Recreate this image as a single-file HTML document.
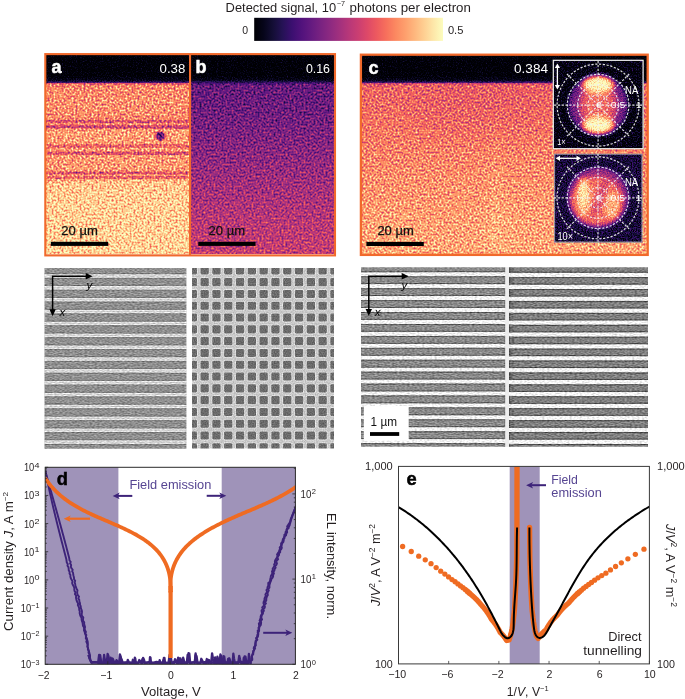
<!DOCTYPE html>
<html><head><meta charset="utf-8"><title>Figure</title>
<style>html,body{margin:0;padding:0;background:#fff;}body{width:685px;height:699px;overflow:hidden;font-family:"Liberation Sans",sans-serif;}svg{display:block;}text{-webkit-font-smoothing:antialiased;}</style>
</head><body>
<svg width="685" height="699" viewBox="0 0 685 699" font-family="Liberation Sans, sans-serif" style="will-change:transform"><defs><linearGradient id="cbar" x1="0" x2="1" y1="0" y2="0"><stop offset="0.00" stop-color="#000004"/><stop offset="0.05" stop-color="#06051a"/><stop offset="0.10" stop-color="#140e36"/><stop offset="0.15" stop-color="#251255"/><stop offset="0.20" stop-color="#3b0f70"/><stop offset="0.25" stop-color="#51127c"/><stop offset="0.30" stop-color="#641a80"/><stop offset="0.35" stop-color="#782281"/><stop offset="0.40" stop-color="#8c2981"/><stop offset="0.45" stop-color="#a1307e"/><stop offset="0.50" stop-color="#b73779"/><stop offset="0.55" stop-color="#ca3e72"/><stop offset="0.60" stop-color="#de4968"/><stop offset="0.65" stop-color="#ed5a5f"/><stop offset="0.70" stop-color="#f7705c"/><stop offset="0.75" stop-color="#fc8961"/><stop offset="0.80" stop-color="#fe9f6d"/><stop offset="0.85" stop-color="#feb77e"/><stop offset="0.90" stop-color="#fecf92"/><stop offset="0.95" stop-color="#fde7a9"/><stop offset="1.00" stop-color="#fcfdbf"/></linearGradient>
<filter id="fk" filterUnits="userSpaceOnUse" x="46" y="55" width="602" height="29" color-interpolation-filters="sRGB">
<feTurbulence type="fractalNoise" baseFrequency="0.8" numOctaves="2" seed="31" result="n0"/><feGaussianBlur in="n0" stdDeviation="0.3" result="n"/>
<feColorMatrix in="n" type="matrix" values="1 0 0 0 0 1 0 0 0 0 1 0 0 0 0 0 0 0 0 1" result="ng"/>
<feComposite in="SourceGraphic" in2="ng" operator="arithmetic" k1="0" k2="1" k3="0.32" k4="-0.16" result="v0"/>
<feComponentTransfer in="v0" result="c"><feFuncR type="table" tableValues="0.001 0.014 0.040 0.074 0.113 0.159 0.212 0.265 0.317 0.366 0.415 0.464 0.513 0.563 0.614 0.665 0.716 0.767 0.817 0.863 0.904 0.937 0.961 0.977 0.987 0.993 0.996 0.997 0.997 0.995 0.992 0.989 0.987"/><feFuncG type="table" tableValues="0.000 0.012 0.031 0.052 0.065 0.068 0.062 0.060 0.072 0.090 0.110 0.130 0.148 0.165 0.182 0.198 0.215 0.234 0.256 0.284 0.320 0.365 0.418 0.476 0.536 0.595 0.654 0.712 0.770 0.827 0.884 0.941 0.991"/><feFuncB type="table" tableValues="0.014 0.069 0.134 0.203 0.277 0.353 0.419 0.462 0.485 0.498 0.505 0.508 0.508 0.505 0.499 0.489 0.475 0.458 0.436 0.412 0.388 0.369 0.360 0.364 0.382 0.410 0.446 0.488 0.535 0.586 0.640 0.698 0.750"/><feFuncA type="identity"/></feComponentTransfer>
<feComposite in="c" in2="SourceAlpha" operator="in"/>
</filter>
<linearGradient id="gk" x1="0" x2="0" y1="55" y2="84" gradientUnits="userSpaceOnUse"><stop offset="0" stop-color="#000000"/><stop offset="0.72" stop-color="#000000"/><stop offset="0.86" stop-color="#0a0a0a"/><stop offset="0.92" stop-color="#1f1f1f"/><stop offset="0.97" stop-color="#404040"/><stop offset="1" stop-color="#4c4c4c"/></linearGradient>
<filter id="fa" filterUnits="userSpaceOnUse" x="46" y="82.6" width="143.5" height="171.5" color-interpolation-filters="sRGB">
<feTurbulence type="fractalNoise" baseFrequency="0.5" numOctaves="2" seed="3" result="n0"/><feGaussianBlur in="n0" stdDeviation="0.4" result="n"/>
<feColorMatrix in="n" type="matrix" values="1 0 0 0 0 1 0 0 0 0 1 0 0 0 0 0 0 0 0 1" result="ng"/>
<feComposite in="SourceGraphic" in2="ng" operator="arithmetic" k1="0" k2="1" k3="0.9" k4="-0.45" result="v0"/>
<feComponentTransfer in="v0" result="c"><feFuncR type="table" tableValues="0.001 0.014 0.040 0.074 0.113 0.159 0.212 0.265 0.317 0.366 0.415 0.464 0.513 0.563 0.614 0.665 0.716 0.767 0.817 0.863 0.904 0.937 0.961 0.977 0.987 0.993 0.996 0.997 0.997 0.995 0.992 0.989 0.987"/><feFuncG type="table" tableValues="0.000 0.012 0.031 0.052 0.065 0.068 0.062 0.060 0.072 0.090 0.110 0.130 0.148 0.165 0.182 0.198 0.215 0.234 0.256 0.284 0.320 0.365 0.418 0.476 0.536 0.595 0.654 0.712 0.770 0.827 0.884 0.941 0.991"/><feFuncB type="table" tableValues="0.014 0.069 0.134 0.203 0.277 0.353 0.419 0.462 0.485 0.498 0.505 0.508 0.508 0.505 0.499 0.489 0.475 0.458 0.436 0.412 0.388 0.369 0.360 0.364 0.382 0.410 0.446 0.488 0.535 0.586 0.640 0.698 0.750"/><feFuncA type="identity"/></feComponentTransfer>
<feComposite in="c" in2="SourceAlpha" operator="in"/>
</filter>
<linearGradient id="ga" x1="0" x2="0" y1="55" y2="254" gradientUnits="userSpaceOnUse"><stop offset="0.14" stop-color="#8c8c8c"/><stop offset="0.15" stop-color="#bdbdbd"/><stop offset="0.23" stop-color="#c4c4c4"/><stop offset="0.3" stop-color="#c2c2c2"/><stop offset="0.32" stop-color="#bdbdbd"/><stop offset="0.38" stop-color="#cccccc"/><stop offset="0.44" stop-color="#cccccc"/><stop offset="0.51" stop-color="#c9c9c9"/><stop offset="0.57" stop-color="#c9c9c9"/><stop offset="0.62" stop-color="#cccccc"/><stop offset="0.64" stop-color="#e0e0e0"/><stop offset="0.73" stop-color="#e6e6e6"/><stop offset="1" stop-color="#e8e8e8"/></linearGradient>
<filter id="sb" x="-10%" y="-100%" width="120%" height="300%"><feGaussianBlur stdDeviation="0.3 0.7"/></filter>
<filter id="fb" filterUnits="userSpaceOnUse" x="190" y="82.6" width="144.5" height="171.5" color-interpolation-filters="sRGB">
<feTurbulence type="fractalNoise" baseFrequency="0.5" numOctaves="2" seed="5" result="n0"/><feGaussianBlur in="n0" stdDeviation="0.4" result="n"/>
<feColorMatrix in="n" type="matrix" values="1 0 0 0 0 1 0 0 0 0 1 0 0 0 0 0 0 0 0 1" result="ng"/>
<feComposite in="SourceGraphic" in2="ng" operator="arithmetic" k1="0" k2="1" k3="0.75" k4="-0.375" result="v0"/>
<feComponentTransfer in="v0" result="c"><feFuncR type="table" tableValues="0.001 0.014 0.040 0.074 0.113 0.159 0.212 0.265 0.317 0.366 0.415 0.464 0.513 0.563 0.614 0.665 0.716 0.767 0.817 0.863 0.904 0.937 0.961 0.977 0.987 0.993 0.996 0.997 0.997 0.995 0.992 0.989 0.987"/><feFuncG type="table" tableValues="0.000 0.012 0.031 0.052 0.065 0.068 0.062 0.060 0.072 0.090 0.110 0.130 0.148 0.165 0.182 0.198 0.215 0.234 0.256 0.284 0.320 0.365 0.418 0.476 0.536 0.595 0.654 0.712 0.770 0.827 0.884 0.941 0.991"/><feFuncB type="table" tableValues="0.014 0.069 0.134 0.203 0.277 0.353 0.419 0.462 0.485 0.498 0.505 0.508 0.508 0.505 0.499 0.489 0.475 0.458 0.436 0.412 0.388 0.369 0.360 0.364 0.382 0.410 0.446 0.488 0.535 0.586 0.640 0.698 0.750"/><feFuncA type="identity"/></feComponentTransfer>
<feComposite in="c" in2="SourceAlpha" operator="in"/>
</filter>
<linearGradient id="gb" x1="0" x2="0" y1="55" y2="254" gradientUnits="userSpaceOnUse"><stop offset="0.14" stop-color="#333333"/><stop offset="0.15" stop-color="#4c4c4c"/><stop offset="0.28" stop-color="#525252"/><stop offset="0.43" stop-color="#5e5e5e"/><stop offset="0.63" stop-color="#707070"/><stop offset="0.83" stop-color="#808080"/><stop offset="1" stop-color="#8a8a8a"/></linearGradient>
<filter id="fc" filterUnits="userSpaceOnUse" x="361.5" y="82.6" width="285.5" height="171.5" color-interpolation-filters="sRGB">
<feTurbulence type="fractalNoise" baseFrequency="0.5" numOctaves="2" seed="7" result="n0"/><feGaussianBlur in="n0" stdDeviation="0.4" result="n"/>
<feColorMatrix in="n" type="matrix" values="1 0 0 0 0 1 0 0 0 0 1 0 0 0 0 0 0 0 0 1" result="ng"/>
<feComposite in="SourceGraphic" in2="ng" operator="arithmetic" k1="0" k2="1" k3="0.85" k4="-0.425" result="v0"/>
<feComponentTransfer in="v0" result="c"><feFuncR type="table" tableValues="0.001 0.014 0.040 0.074 0.113 0.159 0.212 0.265 0.317 0.366 0.415 0.464 0.513 0.563 0.614 0.665 0.716 0.767 0.817 0.863 0.904 0.937 0.961 0.977 0.987 0.993 0.996 0.997 0.997 0.995 0.992 0.989 0.987"/><feFuncG type="table" tableValues="0.000 0.012 0.031 0.052 0.065 0.068 0.062 0.060 0.072 0.090 0.110 0.130 0.148 0.165 0.182 0.198 0.215 0.234 0.256 0.284 0.320 0.365 0.418 0.476 0.536 0.595 0.654 0.712 0.770 0.827 0.884 0.941 0.991"/><feFuncB type="table" tableValues="0.014 0.069 0.134 0.203 0.277 0.353 0.419 0.462 0.485 0.498 0.505 0.508 0.508 0.505 0.499 0.489 0.475 0.458 0.436 0.412 0.388 0.369 0.360 0.364 0.382 0.410 0.446 0.488 0.535 0.586 0.640 0.698 0.750"/><feFuncA type="identity"/></feComponentTransfer>
<feComposite in="c" in2="SourceAlpha" operator="in"/>
</filter>
<linearGradient id="gc" x1="0" x2="0" y1="55" y2="254" gradientUnits="userSpaceOnUse"><stop offset="0.14" stop-color="#808080"/><stop offset="0.15" stop-color="#a8a8a8"/><stop offset="0.28" stop-color="#b0b0b0"/><stop offset="0.43" stop-color="#b8b8b8"/><stop offset="0.63" stop-color="#c4c4c4"/><stop offset="0.83" stop-color="#cccccc"/><stop offset="1" stop-color="#d1d1d1"/></linearGradient>
<linearGradient id="gc2" x1="0" x2="1" y1="0" y2="0"><stop offset="0" stop-color="#fff" stop-opacity="0"/><stop offset="0.5" stop-color="#fff" stop-opacity="0.06"/><stop offset="1" stop-color="#fff" stop-opacity="0"/></linearGradient>
<linearGradient id="gc3" x1="0" x2="0" y1="0" y2="1"><stop offset="0" stop-color="#fff" stop-opacity="0"/><stop offset="1" stop-color="#fff" stop-opacity="1"/></linearGradient>
<filter id="soft" x="-50%" y="-50%" width="200%" height="200%"><feGaussianBlur stdDeviation="12"/></filter>
<filter id="fi1" filterUnits="userSpaceOnUse" x="552.8" y="59.8" width="90.8" height="89.4" color-interpolation-filters="sRGB">
<feTurbulence type="fractalNoise" baseFrequency="0.8" numOctaves="2" seed="11" result="n0"/><feGaussianBlur in="n0" stdDeviation="0.3" result="n"/>
<feColorMatrix in="n" type="matrix" values="1 0 0 0 0 1 0 0 0 0 1 0 0 0 0 0 0 0 0 1" result="ng"/>
<feComposite in="SourceGraphic" in2="ng" operator="arithmetic" k1="0" k2="1" k3="0.55" k4="-0.275" result="v0"/>
<feComponentTransfer in="v0" result="c"><feFuncR type="table" tableValues="0.001 0.014 0.040 0.074 0.113 0.159 0.212 0.265 0.317 0.366 0.415 0.464 0.513 0.563 0.614 0.665 0.716 0.767 0.817 0.863 0.904 0.937 0.961 0.977 0.987 0.993 0.996 0.997 0.997 0.995 0.992 0.989 0.987"/><feFuncG type="table" tableValues="0.000 0.012 0.031 0.052 0.065 0.068 0.062 0.060 0.072 0.090 0.110 0.130 0.148 0.165 0.182 0.198 0.215 0.234 0.256 0.284 0.320 0.365 0.418 0.476 0.536 0.595 0.654 0.712 0.770 0.827 0.884 0.941 0.991"/><feFuncB type="table" tableValues="0.014 0.069 0.134 0.203 0.277 0.353 0.419 0.462 0.485 0.498 0.505 0.508 0.508 0.505 0.499 0.489 0.475 0.458 0.436 0.412 0.388 0.369 0.360 0.364 0.382 0.410 0.446 0.488 0.535 0.586 0.640 0.698 0.750"/><feFuncA type="identity"/></feComponentTransfer>
<feComposite in="c" in2="SourceAlpha" operator="in"/>
</filter>
<filter id="fi1b" x="-50%" y="-50%" width="200%" height="200%"><feGaussianBlur stdDeviation="2.2"/></filter>
<filter id="fi2" filterUnits="userSpaceOnUse" x="554" y="153.7" width="88.5" height="88.9" color-interpolation-filters="sRGB">
<feTurbulence type="fractalNoise" baseFrequency="0.8" numOctaves="2" seed="13" result="n0"/><feGaussianBlur in="n0" stdDeviation="0.3" result="n"/>
<feColorMatrix in="n" type="matrix" values="1 0 0 0 0 1 0 0 0 0 1 0 0 0 0 0 0 0 0 1" result="ng"/>
<feComposite in="SourceGraphic" in2="ng" operator="arithmetic" k1="0" k2="1" k3="0.55" k4="-0.275" result="v0"/>
<feComponentTransfer in="v0" result="c"><feFuncR type="table" tableValues="0.001 0.014 0.040 0.074 0.113 0.159 0.212 0.265 0.317 0.366 0.415 0.464 0.513 0.563 0.614 0.665 0.716 0.767 0.817 0.863 0.904 0.937 0.961 0.977 0.987 0.993 0.996 0.997 0.997 0.995 0.992 0.989 0.987"/><feFuncG type="table" tableValues="0.000 0.012 0.031 0.052 0.065 0.068 0.062 0.060 0.072 0.090 0.110 0.130 0.148 0.165 0.182 0.198 0.215 0.234 0.256 0.284 0.320 0.365 0.418 0.476 0.536 0.595 0.654 0.712 0.770 0.827 0.884 0.941 0.991"/><feFuncB type="table" tableValues="0.014 0.069 0.134 0.203 0.277 0.353 0.419 0.462 0.485 0.498 0.505 0.508 0.508 0.505 0.499 0.489 0.475 0.458 0.436 0.412 0.388 0.369 0.360 0.364 0.382 0.410 0.446 0.488 0.535 0.586 0.640 0.698 0.750"/><feFuncA type="identity"/></feComponentTransfer>
<feComposite in="c" in2="SourceAlpha" operator="in"/>
</filter>
<filter id="fi2b" x="-50%" y="-50%" width="200%" height="200%"><feGaussianBlur stdDeviation="2.2"/></filter>
<filter id="fsa" filterUnits="userSpaceOnUse" x="44.4" y="267.9" width="142.1" height="180.9" color-interpolation-filters="sRGB">
<feTurbulence type="fractalNoise" baseFrequency="0.4 0.9" numOctaves="1" seed="21" result="n"/>
<feColorMatrix in="n" type="matrix" values="1 0 0 0 0 1 0 0 0 0 1 0 0 0 0 0 0 0 0 1" result="ng"/>
<feComposite in="SourceGraphic" in2="ng" operator="arithmetic" k1="0" k2="1" k3="0.5" k4="-0.25" result="c"/>
<feComposite in="c" in2="SourceAlpha" operator="in"/>
</filter>
<filter id="fsb" filterUnits="userSpaceOnUse" x="192" y="268" width="142" height="180.5" color-interpolation-filters="sRGB">
<feTurbulence type="fractalNoise" baseFrequency="0.9" numOctaves="1" seed="22" result="n"/>
<feColorMatrix in="n" type="matrix" values="1 0 0 0 0 1 0 0 0 0 1 0 0 0 0 0 0 0 0 1" result="ng"/>
<feComposite in="SourceGraphic" in2="ng" operator="arithmetic" k1="0" k2="1" k3="0.3" k4="-0.15" result="c"/>
<feComposite in="c" in2="SourceAlpha" operator="in"/>
</filter>
<filter id="fsc1" filterUnits="userSpaceOnUse" x="361" y="267.2" width="144.5" height="179.6" color-interpolation-filters="sRGB">
<feTurbulence type="fractalNoise" baseFrequency="0.4 0.9" numOctaves="1" seed="23" result="n"/>
<feColorMatrix in="n" type="matrix" values="1 0 0 0 0 1 0 0 0 0 1 0 0 0 0 0 0 0 0 1" result="ng"/>
<feComposite in="SourceGraphic" in2="ng" operator="arithmetic" k1="0" k2="1" k3="0.5" k4="-0.25" result="c"/>
<feComposite in="c" in2="SourceAlpha" operator="in"/>
</filter>
<filter id="fsc2" filterUnits="userSpaceOnUse" x="509" y="267.2" width="139" height="179.6" color-interpolation-filters="sRGB">
<feTurbulence type="fractalNoise" baseFrequency="0.4 0.9" numOctaves="1" seed="24" result="n"/>
<feColorMatrix in="n" type="matrix" values="1 0 0 0 0 1 0 0 0 0 1 0 0 0 0 0 0 0 0 1" result="ng"/>
<feComposite in="SourceGraphic" in2="ng" operator="arithmetic" k1="0" k2="1" k3="0.5" k4="-0.25" result="c"/>
<feComposite in="c" in2="SourceAlpha" operator="in"/>
</filter></defs>
<text x="225.6" y="11.8" font-size="12" fill="#231f20" textLength="110.5" lengthAdjust="spacingAndGlyphs">Detected signal, 10</text>
<text x="336.7" y="5.6" font-size="7" fill="#231f20" textLength="8.2" lengthAdjust="spacingAndGlyphs">&#8722;7</text>
<text x="349.6" y="11.8" font-size="12" fill="#231f20" textLength="121.3" lengthAdjust="spacingAndGlyphs">photons per electron</text>
<rect x="254.2" y="17.8" width="188.8" height="23.1" fill="url(#cbar)"/>
<text x="242.2" y="34" font-size="10.5" fill="#231f20">0</text>
<text x="447.9" y="34.2" font-size="10.5" fill="#231f20" textLength="15.5" lengthAdjust="spacingAndGlyphs">0.5</text>
<g filter="url(#fk)">
<rect x="46" y="55" width="288.5" height="28.7" fill="url(#gk)"/>
<rect x="361.5" y="55" width="285.5" height="28.7" fill="url(#gk)"/>
</g>
<g filter="url(#fa)">
<rect x="46" y="82.6" width="143.5" height="171.5" fill="url(#ga)"/>
<g filter="url(#sb)">
<rect x="46" y="120.0" width="143.5" height="2.8" fill="#999999"/>
<rect x="46" y="125.3" width="143.5" height="3.2" fill="#8c8c8c"/>
<rect x="46" y="144.2" width="143.5" height="3.6" fill="#a8a8a8"/>
<rect x="46" y="151.6" width="143.5" height="3.3" fill="#999999"/>
<rect x="46" y="171.6" width="143.5" height="2.8" fill="#999999"/>
<rect x="46" y="176.2" width="143.5" height="2.8" fill="#a8a8a8"/>
</g>
<circle cx="160.3" cy="135.9" r="5.5" fill="#808080" opacity="0.6"/>
<circle cx="160.3" cy="135.9" r="3.9" fill="#454545"/>
</g>
<rect x="190" y="82.6" width="144.5" height="171.5" fill="url(#gb)" filter="url(#fb)"/>
<rect x="45.3" y="54.1" width="289.7" height="201.3" fill="none" stroke="#f1692b" stroke-width="2.1"/>
<rect x="189" y="54" width="2.1" height="201.5" fill="#f1692b"/>
<text x="51.6" y="73" font-size="18" fill="#fff" font-weight="bold" stroke="#fff" stroke-width="0.5">a</text>
<text x="195.6" y="73" font-size="18" fill="#fff" font-weight="bold" stroke="#fff" stroke-width="0.5">b</text>
<text x="159.6" y="73" font-size="12.3" fill="#fff" textLength="25.7" lengthAdjust="spacingAndGlyphs">0.38</text>
<text x="305.9" y="72.6" font-size="12.3" fill="#fff" textLength="24.1" lengthAdjust="spacingAndGlyphs">0.16</text>
<rect x="50.8" y="241.8" width="57.4" height="4.1" fill="#000"/>
<text x="61.3" y="235.2" font-size="12.3" fill="#111" textLength="36.6" lengthAdjust="spacingAndGlyphs" stroke="#111" stroke-width="0.25">20 µm</text>
<rect x="198.3" y="241.8" width="57.2" height="4.1" fill="#000"/>
<text x="208.5" y="235.2" font-size="12.3" fill="#111" textLength="36.6" lengthAdjust="spacingAndGlyphs" stroke="#111" stroke-width="0.25">20 µm</text>
<g filter="url(#fc)">
<rect x="361.5" y="82.6" width="285.5" height="171.5" fill="url(#gc)"/>
<rect x="484" y="120" width="24" height="134" fill="url(#gc2)"/>
<rect x="484" y="170" width="24" height="84" fill="url(#gc2)"/>
<g filter="url(#soft)">
<ellipse cx="480" cy="112" rx="70" ry="22" fill="#000" opacity="0.045"/>
<ellipse cx="500" cy="228" rx="16" ry="30" fill="#fff" opacity="0.12"/>
<ellipse cx="392" cy="232" rx="30" ry="20" fill="#fff" opacity="0.08"/>
</g>
</g>
<rect x="360.9" y="54.7" width="286.8" height="200.2" fill="none" stroke="#f1692b" stroke-width="2.3"/>
<text x="368.4" y="73.6" font-size="18" fill="#fff" font-weight="bold" stroke="#fff" stroke-width="0.5">c</text>
<text x="514" y="73" font-size="12.3" fill="#fff" textLength="34" lengthAdjust="spacingAndGlyphs">0.384</text>
<rect x="366.4" y="241.9" width="57.4" height="4.1" fill="#000"/>
<text x="377.4" y="235.2" font-size="12.3" fill="#111" textLength="36.3" lengthAdjust="spacingAndGlyphs" stroke="#111" stroke-width="0.25">20 µm</text>
<g filter="url(#fi1)">
<rect x="552.8" y="59.8" width="90.8" height="89.4" fill="#050505"/>
<g filter="url(#fi1b)">
<circle cx="598.1" cy="105.1" r="29.5" fill="#575757"/>
<ellipse cx="598.1" cy="105.1" rx="19" ry="24" fill="#999999"/>
<ellipse cx="598.1" cy="105.1" rx="12" ry="20" fill="#adadad"/>
<ellipse cx="598.1" cy="84.6" rx="15.5" ry="9" fill="#e6e6e6"/>
<ellipse cx="598.1" cy="125.1" rx="15.5" ry="9" fill="#e6e6e6"/>
<ellipse cx="598.1" cy="84.1" rx="12" ry="6.5" fill="#ffffff"/>
<ellipse cx="598.1" cy="125.6" rx="12" ry="6.5" fill="#ffffff"/>
</g>
</g>
<rect x="553.3" y="60.3" width="89.8" height="88.4" fill="none" stroke="#f4f4f4" stroke-width="1.2" opacity="1"/>
<g fill="none" stroke="#f2f2f2" stroke-width="1.15" stroke-dasharray="2.2 1.6" opacity="0.92">
<circle cx="598.1" cy="105.1" r="10.25"/>
<circle cx="598.1" cy="105.1" r="20.5"/>
<circle cx="598.1" cy="105.1" r="30.75"/>
<circle cx="598.1" cy="105.1" r="41"/>
<line x1="598.1" y1="105.1" x2="642.1" y2="105.1"/>
<line x1="598.1" y1="105.1" x2="629.21" y2="136.21"/>
<line x1="598.1" y1="105.1" x2="598.1" y2="149.1"/>
<line x1="598.1" y1="105.1" x2="566.99" y2="136.21"/>
<line x1="598.1" y1="105.1" x2="554.1" y2="105.1"/>
<line x1="598.1" y1="105.1" x2="566.99" y2="73.99"/>
<line x1="598.1" y1="105.1" x2="598.1" y2="61.1"/>
<line x1="598.1" y1="105.1" x2="629.21" y2="73.99"/>
</g>
<text x="625.1" y="93.5" font-size="10.2" fill="#fff" textLength="13.2" lengthAdjust="spacingAndGlyphs">NA</text>
<text x="596.6" y="108.1" font-size="9.6" fill="#fff">0</text>
<text x="610.7" y="108.1" font-size="9.6" fill="#fff" textLength="14.6" lengthAdjust="spacingAndGlyphs">0.5</text>
<text x="635.9" y="108.1" font-size="9.6" fill="#fff">1</text>
<g filter="url(#fi2)">
<rect x="554" y="153.7" width="88.5" height="88.9" fill="#1a1a1a"/>
<g filter="url(#fi2b)">
<circle cx="598.0" cy="197.8" r="30" fill="#707070"/>
<ellipse cx="597.0" cy="200.8" rx="26" ry="24" fill="#adadad"/>
<ellipse cx="600.0" cy="195.8" rx="4.5" ry="21" fill="#949494" transform="rotate(20 598.0 197.8)"/>
<ellipse cx="584.0" cy="196.8" rx="7" ry="19" fill="#d6d6d6"/>
<ellipse cx="583.0" cy="194.8" rx="3.5" ry="13" fill="#f7f7f7"/>
<ellipse cx="612.0" cy="205.8" rx="7.5" ry="14" fill="#d1d1d1"/>
</g>
</g>
<rect x="554.5" y="154.2" width="87.5" height="87.9" fill="none" stroke="#f4f4f4" stroke-width="1.2" opacity="0.55"/>
<g fill="none" stroke="#f2f2f2" stroke-width="1.15" stroke-dasharray="2.2 1.6" opacity="0.92">
<circle cx="598.0" cy="197.8" r="10.25"/>
<circle cx="598.0" cy="197.8" r="20.5"/>
<circle cx="598.0" cy="197.8" r="30.75"/>
<circle cx="598.0" cy="197.8" r="41"/>
<line x1="598.0" y1="197.8" x2="642" y2="197.8"/>
<line x1="598.0" y1="197.8" x2="629.11" y2="228.91"/>
<line x1="598.0" y1="197.8" x2="598" y2="241.8"/>
<line x1="598.0" y1="197.8" x2="566.89" y2="228.91"/>
<line x1="598.0" y1="197.8" x2="554" y2="197.8"/>
<line x1="598.0" y1="197.8" x2="566.89" y2="166.69"/>
<line x1="598.0" y1="197.8" x2="598" y2="153.8"/>
<line x1="598.0" y1="197.8" x2="629.11" y2="166.69"/>
</g>
<text x="625" y="186.2" font-size="10.2" fill="#fff" textLength="13.2" lengthAdjust="spacingAndGlyphs">NA</text>
<text x="596.5" y="200.8" font-size="9.6" fill="#fff">0</text>
<text x="610.6" y="200.8" font-size="9.6" fill="#fff" textLength="14.6" lengthAdjust="spacingAndGlyphs">0.5</text>
<text x="635.8" y="200.8" font-size="9.6" fill="#fff">1</text>
<text x="557.2" y="145.2" font-size="9.6" fill="#fff" textLength="8.5" lengthAdjust="spacingAndGlyphs">1×</text>
<text x="557.5" y="239.6" font-size="10" fill="#fff" textLength="15.6" lengthAdjust="spacingAndGlyphs">10×</text>
<line x1="557.4" y1="67.1" x2="557.4" y2="85.9" stroke="#fff" stroke-width="1.3"/>
<path d="M557.4,63.5 L554.8,68 L560,68 Z" fill="#fff"/>
<path d="M557.4,89.5 L554.8,85 L560,85 Z" fill="#fff"/>
<line x1="559.1" y1="158.3" x2="577.4" y2="158.3" stroke="#fff" stroke-width="1.3"/>
<path d="M555.5,158.3 L560,160.9 L560,155.7 Z" fill="#fff"/>
<path d="M581,158.3 L576.5,160.9 L576.5,155.7 Z" fill="#fff"/>
<clipPath id="fsac"><rect x="44.4" y="267.9" width="142.1" height="180.9"/></clipPath>
<g clip-path="url(#fsac)"><g filter="url(#fsa)">
<rect x="44.4" y="267.9" width="142.1" height="180.9" fill="#e6e6e6"/>
<rect x="44.4" y="254.18" width="142.1" height="8.1" fill="#8f8f8f"/>
<rect x="44.4" y="254.18" width="142.1" height="1" fill="#787878"/>
<rect x="44.4" y="261.28" width="142.1" height="1" fill="#787878"/>
<rect x="44.4" y="263.66" width="142.1" height="1.0" fill="#c7c7c7"/>
<rect x="44.4" y="266.04" width="142.1" height="8.1" fill="#8f8f8f"/>
<rect x="44.4" y="266.04" width="142.1" height="1" fill="#787878"/>
<rect x="44.4" y="273.14" width="142.1" height="1" fill="#787878"/>
<rect x="44.4" y="275.52" width="142.1" height="1.0" fill="#c7c7c7"/>
<rect x="44.4" y="277.9" width="142.1" height="8.1" fill="#8f8f8f"/>
<rect x="44.4" y="277.9" width="142.1" height="1" fill="#787878"/>
<rect x="44.4" y="285" width="142.1" height="1" fill="#787878"/>
<rect x="44.4" y="287.38" width="142.1" height="1.0" fill="#c7c7c7"/>
<rect x="44.4" y="289.76" width="142.1" height="8.1" fill="#8f8f8f"/>
<rect x="44.4" y="289.76" width="142.1" height="1" fill="#787878"/>
<rect x="44.4" y="296.86" width="142.1" height="1" fill="#787878"/>
<rect x="44.4" y="299.24" width="142.1" height="1.0" fill="#c7c7c7"/>
<rect x="44.4" y="301.62" width="142.1" height="8.1" fill="#8f8f8f"/>
<rect x="44.4" y="301.62" width="142.1" height="1" fill="#787878"/>
<rect x="44.4" y="308.72" width="142.1" height="1" fill="#787878"/>
<rect x="44.4" y="311.1" width="142.1" height="1.0" fill="#c7c7c7"/>
<rect x="44.4" y="313.48" width="142.1" height="8.1" fill="#8f8f8f"/>
<rect x="44.4" y="313.48" width="142.1" height="1" fill="#787878"/>
<rect x="44.4" y="320.58" width="142.1" height="1" fill="#787878"/>
<rect x="44.4" y="322.96" width="142.1" height="1.0" fill="#c7c7c7"/>
<rect x="44.4" y="325.34" width="142.1" height="8.1" fill="#8f8f8f"/>
<rect x="44.4" y="325.34" width="142.1" height="1" fill="#787878"/>
<rect x="44.4" y="332.44" width="142.1" height="1" fill="#787878"/>
<rect x="44.4" y="334.82" width="142.1" height="1.0" fill="#c7c7c7"/>
<rect x="44.4" y="337.2" width="142.1" height="8.1" fill="#8f8f8f"/>
<rect x="44.4" y="337.2" width="142.1" height="1" fill="#787878"/>
<rect x="44.4" y="344.3" width="142.1" height="1" fill="#787878"/>
<rect x="44.4" y="346.68" width="142.1" height="1.0" fill="#c7c7c7"/>
<rect x="44.4" y="349.06" width="142.1" height="8.1" fill="#8f8f8f"/>
<rect x="44.4" y="349.06" width="142.1" height="1" fill="#787878"/>
<rect x="44.4" y="356.16" width="142.1" height="1" fill="#787878"/>
<rect x="44.4" y="358.54" width="142.1" height="1.0" fill="#c7c7c7"/>
<rect x="44.4" y="360.92" width="142.1" height="8.1" fill="#8f8f8f"/>
<rect x="44.4" y="360.92" width="142.1" height="1" fill="#787878"/>
<rect x="44.4" y="368.02" width="142.1" height="1" fill="#787878"/>
<rect x="44.4" y="370.4" width="142.1" height="1.0" fill="#c7c7c7"/>
<rect x="44.4" y="372.78" width="142.1" height="8.1" fill="#8f8f8f"/>
<rect x="44.4" y="372.78" width="142.1" height="1" fill="#787878"/>
<rect x="44.4" y="379.88" width="142.1" height="1" fill="#787878"/>
<rect x="44.4" y="382.26" width="142.1" height="1.0" fill="#c7c7c7"/>
<rect x="44.4" y="384.64" width="142.1" height="8.1" fill="#8f8f8f"/>
<rect x="44.4" y="384.64" width="142.1" height="1" fill="#787878"/>
<rect x="44.4" y="391.74" width="142.1" height="1" fill="#787878"/>
<rect x="44.4" y="394.12" width="142.1" height="1.0" fill="#c7c7c7"/>
<rect x="44.4" y="396.5" width="142.1" height="8.1" fill="#8f8f8f"/>
<rect x="44.4" y="396.5" width="142.1" height="1" fill="#787878"/>
<rect x="44.4" y="403.6" width="142.1" height="1" fill="#787878"/>
<rect x="44.4" y="405.98" width="142.1" height="1.0" fill="#c7c7c7"/>
<rect x="44.4" y="408.36" width="142.1" height="8.1" fill="#8f8f8f"/>
<rect x="44.4" y="408.36" width="142.1" height="1" fill="#787878"/>
<rect x="44.4" y="415.46" width="142.1" height="1" fill="#787878"/>
<rect x="44.4" y="417.84" width="142.1" height="1.0" fill="#c7c7c7"/>
<rect x="44.4" y="420.22" width="142.1" height="8.1" fill="#8f8f8f"/>
<rect x="44.4" y="420.22" width="142.1" height="1" fill="#787878"/>
<rect x="44.4" y="427.32" width="142.1" height="1" fill="#787878"/>
<rect x="44.4" y="429.7" width="142.1" height="1.0" fill="#c7c7c7"/>
<rect x="44.4" y="432.08" width="142.1" height="8.1" fill="#8f8f8f"/>
<rect x="44.4" y="432.08" width="142.1" height="1" fill="#787878"/>
<rect x="44.4" y="439.18" width="142.1" height="1" fill="#787878"/>
<rect x="44.4" y="441.56" width="142.1" height="1.0" fill="#c7c7c7"/>
<rect x="44.4" y="443.94" width="142.1" height="8.1" fill="#8f8f8f"/>
<rect x="44.4" y="443.94" width="142.1" height="1" fill="#787878"/>
<rect x="44.4" y="451.04" width="142.1" height="1" fill="#787878"/>
<rect x="44.4" y="453.42" width="142.1" height="1.0" fill="#c7c7c7"/>
</g></g>
<clipPath id="csb"><rect x="192" y="268" width="142" height="180.5"/></clipPath>
<g clip-path="url(#csb)"><g filter="url(#fsb)">
<rect x="192" y="268" width="142" height="180.5" fill="#c7c7c7"/>
<rect x="187.9" y="265.5" width="9.9" height="9.7" rx="2" fill="#e6e6e6"/>
<rect x="188.7" y="266.3" width="8.3" height="8.1" rx="1.3" fill="#6b6b6b"/>
<rect x="187.9" y="277.3" width="9.9" height="9.7" rx="2" fill="#e6e6e6"/>
<rect x="188.7" y="278.1" width="8.3" height="8.1" rx="1.3" fill="#6b6b6b"/>
<rect x="187.9" y="289.1" width="9.9" height="9.7" rx="2" fill="#e6e6e6"/>
<rect x="188.7" y="289.9" width="8.3" height="8.1" rx="1.3" fill="#6b6b6b"/>
<rect x="187.9" y="300.9" width="9.9" height="9.7" rx="2" fill="#e6e6e6"/>
<rect x="188.7" y="301.7" width="8.3" height="8.1" rx="1.3" fill="#6b6b6b"/>
<rect x="187.9" y="312.7" width="9.9" height="9.7" rx="2" fill="#e6e6e6"/>
<rect x="188.7" y="313.5" width="8.3" height="8.1" rx="1.3" fill="#6b6b6b"/>
<rect x="187.9" y="324.5" width="9.9" height="9.7" rx="2" fill="#e6e6e6"/>
<rect x="188.7" y="325.3" width="8.3" height="8.1" rx="1.3" fill="#6b6b6b"/>
<rect x="187.9" y="336.3" width="9.9" height="9.7" rx="2" fill="#e6e6e6"/>
<rect x="188.7" y="337.1" width="8.3" height="8.1" rx="1.3" fill="#6b6b6b"/>
<rect x="187.9" y="348.1" width="9.9" height="9.7" rx="2" fill="#e6e6e6"/>
<rect x="188.7" y="348.9" width="8.3" height="8.1" rx="1.3" fill="#6b6b6b"/>
<rect x="187.9" y="359.9" width="9.9" height="9.7" rx="2" fill="#e6e6e6"/>
<rect x="188.7" y="360.7" width="8.3" height="8.1" rx="1.3" fill="#6b6b6b"/>
<rect x="187.9" y="371.7" width="9.9" height="9.7" rx="2" fill="#e6e6e6"/>
<rect x="188.7" y="372.5" width="8.3" height="8.1" rx="1.3" fill="#6b6b6b"/>
<rect x="187.9" y="383.5" width="9.9" height="9.7" rx="2" fill="#e6e6e6"/>
<rect x="188.7" y="384.3" width="8.3" height="8.1" rx="1.3" fill="#6b6b6b"/>
<rect x="187.9" y="395.3" width="9.9" height="9.7" rx="2" fill="#e6e6e6"/>
<rect x="188.7" y="396.1" width="8.3" height="8.1" rx="1.3" fill="#6b6b6b"/>
<rect x="187.9" y="407.1" width="9.9" height="9.7" rx="2" fill="#e6e6e6"/>
<rect x="188.7" y="407.9" width="8.3" height="8.1" rx="1.3" fill="#6b6b6b"/>
<rect x="187.9" y="418.9" width="9.9" height="9.7" rx="2" fill="#e6e6e6"/>
<rect x="188.7" y="419.7" width="8.3" height="8.1" rx="1.3" fill="#6b6b6b"/>
<rect x="187.9" y="430.7" width="9.9" height="9.7" rx="2" fill="#e6e6e6"/>
<rect x="188.7" y="431.5" width="8.3" height="8.1" rx="1.3" fill="#6b6b6b"/>
<rect x="187.9" y="442.5" width="9.9" height="9.7" rx="2" fill="#e6e6e6"/>
<rect x="188.7" y="443.3" width="8.3" height="8.1" rx="1.3" fill="#6b6b6b"/>
<rect x="187.9" y="454.3" width="9.9" height="9.7" rx="2" fill="#e6e6e6"/>
<rect x="188.7" y="455.1" width="8.3" height="8.1" rx="1.3" fill="#6b6b6b"/>
<rect x="199.7" y="265.5" width="9.9" height="9.7" rx="2" fill="#e6e6e6"/>
<rect x="200.5" y="266.3" width="8.3" height="8.1" rx="1.3" fill="#6b6b6b"/>
<rect x="199.7" y="277.3" width="9.9" height="9.7" rx="2" fill="#e6e6e6"/>
<rect x="200.5" y="278.1" width="8.3" height="8.1" rx="1.3" fill="#6b6b6b"/>
<rect x="199.7" y="289.1" width="9.9" height="9.7" rx="2" fill="#e6e6e6"/>
<rect x="200.5" y="289.9" width="8.3" height="8.1" rx="1.3" fill="#6b6b6b"/>
<rect x="199.7" y="300.9" width="9.9" height="9.7" rx="2" fill="#e6e6e6"/>
<rect x="200.5" y="301.7" width="8.3" height="8.1" rx="1.3" fill="#6b6b6b"/>
<rect x="199.7" y="312.7" width="9.9" height="9.7" rx="2" fill="#e6e6e6"/>
<rect x="200.5" y="313.5" width="8.3" height="8.1" rx="1.3" fill="#6b6b6b"/>
<rect x="199.7" y="324.5" width="9.9" height="9.7" rx="2" fill="#e6e6e6"/>
<rect x="200.5" y="325.3" width="8.3" height="8.1" rx="1.3" fill="#6b6b6b"/>
<rect x="199.7" y="336.3" width="9.9" height="9.7" rx="2" fill="#e6e6e6"/>
<rect x="200.5" y="337.1" width="8.3" height="8.1" rx="1.3" fill="#6b6b6b"/>
<rect x="199.7" y="348.1" width="9.9" height="9.7" rx="2" fill="#e6e6e6"/>
<rect x="200.5" y="348.9" width="8.3" height="8.1" rx="1.3" fill="#6b6b6b"/>
<rect x="199.7" y="359.9" width="9.9" height="9.7" rx="2" fill="#e6e6e6"/>
<rect x="200.5" y="360.7" width="8.3" height="8.1" rx="1.3" fill="#6b6b6b"/>
<rect x="199.7" y="371.7" width="9.9" height="9.7" rx="2" fill="#e6e6e6"/>
<rect x="200.5" y="372.5" width="8.3" height="8.1" rx="1.3" fill="#6b6b6b"/>
<rect x="199.7" y="383.5" width="9.9" height="9.7" rx="2" fill="#e6e6e6"/>
<rect x="200.5" y="384.3" width="8.3" height="8.1" rx="1.3" fill="#6b6b6b"/>
<rect x="199.7" y="395.3" width="9.9" height="9.7" rx="2" fill="#e6e6e6"/>
<rect x="200.5" y="396.1" width="8.3" height="8.1" rx="1.3" fill="#6b6b6b"/>
<rect x="199.7" y="407.1" width="9.9" height="9.7" rx="2" fill="#e6e6e6"/>
<rect x="200.5" y="407.9" width="8.3" height="8.1" rx="1.3" fill="#6b6b6b"/>
<rect x="199.7" y="418.9" width="9.9" height="9.7" rx="2" fill="#e6e6e6"/>
<rect x="200.5" y="419.7" width="8.3" height="8.1" rx="1.3" fill="#6b6b6b"/>
<rect x="199.7" y="430.7" width="9.9" height="9.7" rx="2" fill="#e6e6e6"/>
<rect x="200.5" y="431.5" width="8.3" height="8.1" rx="1.3" fill="#6b6b6b"/>
<rect x="199.7" y="442.5" width="9.9" height="9.7" rx="2" fill="#e6e6e6"/>
<rect x="200.5" y="443.3" width="8.3" height="8.1" rx="1.3" fill="#6b6b6b"/>
<rect x="199.7" y="454.3" width="9.9" height="9.7" rx="2" fill="#e6e6e6"/>
<rect x="200.5" y="455.1" width="8.3" height="8.1" rx="1.3" fill="#6b6b6b"/>
<rect x="211.5" y="265.5" width="9.9" height="9.7" rx="2" fill="#e6e6e6"/>
<rect x="212.3" y="266.3" width="8.3" height="8.1" rx="1.3" fill="#6b6b6b"/>
<rect x="211.5" y="277.3" width="9.9" height="9.7" rx="2" fill="#e6e6e6"/>
<rect x="212.3" y="278.1" width="8.3" height="8.1" rx="1.3" fill="#6b6b6b"/>
<rect x="211.5" y="289.1" width="9.9" height="9.7" rx="2" fill="#e6e6e6"/>
<rect x="212.3" y="289.9" width="8.3" height="8.1" rx="1.3" fill="#6b6b6b"/>
<rect x="211.5" y="300.9" width="9.9" height="9.7" rx="2" fill="#e6e6e6"/>
<rect x="212.3" y="301.7" width="8.3" height="8.1" rx="1.3" fill="#6b6b6b"/>
<rect x="211.5" y="312.7" width="9.9" height="9.7" rx="2" fill="#e6e6e6"/>
<rect x="212.3" y="313.5" width="8.3" height="8.1" rx="1.3" fill="#6b6b6b"/>
<rect x="211.5" y="324.5" width="9.9" height="9.7" rx="2" fill="#e6e6e6"/>
<rect x="212.3" y="325.3" width="8.3" height="8.1" rx="1.3" fill="#6b6b6b"/>
<rect x="211.5" y="336.3" width="9.9" height="9.7" rx="2" fill="#e6e6e6"/>
<rect x="212.3" y="337.1" width="8.3" height="8.1" rx="1.3" fill="#6b6b6b"/>
<rect x="211.5" y="348.1" width="9.9" height="9.7" rx="2" fill="#e6e6e6"/>
<rect x="212.3" y="348.9" width="8.3" height="8.1" rx="1.3" fill="#6b6b6b"/>
<rect x="211.5" y="359.9" width="9.9" height="9.7" rx="2" fill="#e6e6e6"/>
<rect x="212.3" y="360.7" width="8.3" height="8.1" rx="1.3" fill="#6b6b6b"/>
<rect x="211.5" y="371.7" width="9.9" height="9.7" rx="2" fill="#e6e6e6"/>
<rect x="212.3" y="372.5" width="8.3" height="8.1" rx="1.3" fill="#6b6b6b"/>
<rect x="211.5" y="383.5" width="9.9" height="9.7" rx="2" fill="#e6e6e6"/>
<rect x="212.3" y="384.3" width="8.3" height="8.1" rx="1.3" fill="#6b6b6b"/>
<rect x="211.5" y="395.3" width="9.9" height="9.7" rx="2" fill="#e6e6e6"/>
<rect x="212.3" y="396.1" width="8.3" height="8.1" rx="1.3" fill="#6b6b6b"/>
<rect x="211.5" y="407.1" width="9.9" height="9.7" rx="2" fill="#e6e6e6"/>
<rect x="212.3" y="407.9" width="8.3" height="8.1" rx="1.3" fill="#6b6b6b"/>
<rect x="211.5" y="418.9" width="9.9" height="9.7" rx="2" fill="#e6e6e6"/>
<rect x="212.3" y="419.7" width="8.3" height="8.1" rx="1.3" fill="#6b6b6b"/>
<rect x="211.5" y="430.7" width="9.9" height="9.7" rx="2" fill="#e6e6e6"/>
<rect x="212.3" y="431.5" width="8.3" height="8.1" rx="1.3" fill="#6b6b6b"/>
<rect x="211.5" y="442.5" width="9.9" height="9.7" rx="2" fill="#e6e6e6"/>
<rect x="212.3" y="443.3" width="8.3" height="8.1" rx="1.3" fill="#6b6b6b"/>
<rect x="211.5" y="454.3" width="9.9" height="9.7" rx="2" fill="#e6e6e6"/>
<rect x="212.3" y="455.1" width="8.3" height="8.1" rx="1.3" fill="#6b6b6b"/>
<rect x="223.3" y="265.5" width="9.9" height="9.7" rx="2" fill="#e6e6e6"/>
<rect x="224.1" y="266.3" width="8.3" height="8.1" rx="1.3" fill="#6b6b6b"/>
<rect x="223.3" y="277.3" width="9.9" height="9.7" rx="2" fill="#e6e6e6"/>
<rect x="224.1" y="278.1" width="8.3" height="8.1" rx="1.3" fill="#6b6b6b"/>
<rect x="223.3" y="289.1" width="9.9" height="9.7" rx="2" fill="#e6e6e6"/>
<rect x="224.1" y="289.9" width="8.3" height="8.1" rx="1.3" fill="#6b6b6b"/>
<rect x="223.3" y="300.9" width="9.9" height="9.7" rx="2" fill="#e6e6e6"/>
<rect x="224.1" y="301.7" width="8.3" height="8.1" rx="1.3" fill="#6b6b6b"/>
<rect x="223.3" y="312.7" width="9.9" height="9.7" rx="2" fill="#e6e6e6"/>
<rect x="224.1" y="313.5" width="8.3" height="8.1" rx="1.3" fill="#6b6b6b"/>
<rect x="223.3" y="324.5" width="9.9" height="9.7" rx="2" fill="#e6e6e6"/>
<rect x="224.1" y="325.3" width="8.3" height="8.1" rx="1.3" fill="#6b6b6b"/>
<rect x="223.3" y="336.3" width="9.9" height="9.7" rx="2" fill="#e6e6e6"/>
<rect x="224.1" y="337.1" width="8.3" height="8.1" rx="1.3" fill="#6b6b6b"/>
<rect x="223.3" y="348.1" width="9.9" height="9.7" rx="2" fill="#e6e6e6"/>
<rect x="224.1" y="348.9" width="8.3" height="8.1" rx="1.3" fill="#6b6b6b"/>
<rect x="223.3" y="359.9" width="9.9" height="9.7" rx="2" fill="#e6e6e6"/>
<rect x="224.1" y="360.7" width="8.3" height="8.1" rx="1.3" fill="#6b6b6b"/>
<rect x="223.3" y="371.7" width="9.9" height="9.7" rx="2" fill="#e6e6e6"/>
<rect x="224.1" y="372.5" width="8.3" height="8.1" rx="1.3" fill="#6b6b6b"/>
<rect x="223.3" y="383.5" width="9.9" height="9.7" rx="2" fill="#e6e6e6"/>
<rect x="224.1" y="384.3" width="8.3" height="8.1" rx="1.3" fill="#6b6b6b"/>
<rect x="223.3" y="395.3" width="9.9" height="9.7" rx="2" fill="#e6e6e6"/>
<rect x="224.1" y="396.1" width="8.3" height="8.1" rx="1.3" fill="#6b6b6b"/>
<rect x="223.3" y="407.1" width="9.9" height="9.7" rx="2" fill="#e6e6e6"/>
<rect x="224.1" y="407.9" width="8.3" height="8.1" rx="1.3" fill="#6b6b6b"/>
<rect x="223.3" y="418.9" width="9.9" height="9.7" rx="2" fill="#e6e6e6"/>
<rect x="224.1" y="419.7" width="8.3" height="8.1" rx="1.3" fill="#6b6b6b"/>
<rect x="223.3" y="430.7" width="9.9" height="9.7" rx="2" fill="#e6e6e6"/>
<rect x="224.1" y="431.5" width="8.3" height="8.1" rx="1.3" fill="#6b6b6b"/>
<rect x="223.3" y="442.5" width="9.9" height="9.7" rx="2" fill="#e6e6e6"/>
<rect x="224.1" y="443.3" width="8.3" height="8.1" rx="1.3" fill="#6b6b6b"/>
<rect x="223.3" y="454.3" width="9.9" height="9.7" rx="2" fill="#e6e6e6"/>
<rect x="224.1" y="455.1" width="8.3" height="8.1" rx="1.3" fill="#6b6b6b"/>
<rect x="235.1" y="265.5" width="9.9" height="9.7" rx="2" fill="#e6e6e6"/>
<rect x="235.9" y="266.3" width="8.3" height="8.1" rx="1.3" fill="#6b6b6b"/>
<rect x="235.1" y="277.3" width="9.9" height="9.7" rx="2" fill="#e6e6e6"/>
<rect x="235.9" y="278.1" width="8.3" height="8.1" rx="1.3" fill="#6b6b6b"/>
<rect x="235.1" y="289.1" width="9.9" height="9.7" rx="2" fill="#e6e6e6"/>
<rect x="235.9" y="289.9" width="8.3" height="8.1" rx="1.3" fill="#6b6b6b"/>
<rect x="235.1" y="300.9" width="9.9" height="9.7" rx="2" fill="#e6e6e6"/>
<rect x="235.9" y="301.7" width="8.3" height="8.1" rx="1.3" fill="#6b6b6b"/>
<rect x="235.1" y="312.7" width="9.9" height="9.7" rx="2" fill="#e6e6e6"/>
<rect x="235.9" y="313.5" width="8.3" height="8.1" rx="1.3" fill="#6b6b6b"/>
<rect x="235.1" y="324.5" width="9.9" height="9.7" rx="2" fill="#e6e6e6"/>
<rect x="235.9" y="325.3" width="8.3" height="8.1" rx="1.3" fill="#6b6b6b"/>
<rect x="235.1" y="336.3" width="9.9" height="9.7" rx="2" fill="#e6e6e6"/>
<rect x="235.9" y="337.1" width="8.3" height="8.1" rx="1.3" fill="#6b6b6b"/>
<rect x="235.1" y="348.1" width="9.9" height="9.7" rx="2" fill="#e6e6e6"/>
<rect x="235.9" y="348.9" width="8.3" height="8.1" rx="1.3" fill="#6b6b6b"/>
<rect x="235.1" y="359.9" width="9.9" height="9.7" rx="2" fill="#e6e6e6"/>
<rect x="235.9" y="360.7" width="8.3" height="8.1" rx="1.3" fill="#6b6b6b"/>
<rect x="235.1" y="371.7" width="9.9" height="9.7" rx="2" fill="#e6e6e6"/>
<rect x="235.9" y="372.5" width="8.3" height="8.1" rx="1.3" fill="#6b6b6b"/>
<rect x="235.1" y="383.5" width="9.9" height="9.7" rx="2" fill="#e6e6e6"/>
<rect x="235.9" y="384.3" width="8.3" height="8.1" rx="1.3" fill="#6b6b6b"/>
<rect x="235.1" y="395.3" width="9.9" height="9.7" rx="2" fill="#e6e6e6"/>
<rect x="235.9" y="396.1" width="8.3" height="8.1" rx="1.3" fill="#6b6b6b"/>
<rect x="235.1" y="407.1" width="9.9" height="9.7" rx="2" fill="#e6e6e6"/>
<rect x="235.9" y="407.9" width="8.3" height="8.1" rx="1.3" fill="#6b6b6b"/>
<rect x="235.1" y="418.9" width="9.9" height="9.7" rx="2" fill="#e6e6e6"/>
<rect x="235.9" y="419.7" width="8.3" height="8.1" rx="1.3" fill="#6b6b6b"/>
<rect x="235.1" y="430.7" width="9.9" height="9.7" rx="2" fill="#e6e6e6"/>
<rect x="235.9" y="431.5" width="8.3" height="8.1" rx="1.3" fill="#6b6b6b"/>
<rect x="235.1" y="442.5" width="9.9" height="9.7" rx="2" fill="#e6e6e6"/>
<rect x="235.9" y="443.3" width="8.3" height="8.1" rx="1.3" fill="#6b6b6b"/>
<rect x="235.1" y="454.3" width="9.9" height="9.7" rx="2" fill="#e6e6e6"/>
<rect x="235.9" y="455.1" width="8.3" height="8.1" rx="1.3" fill="#6b6b6b"/>
<rect x="246.9" y="265.5" width="9.9" height="9.7" rx="2" fill="#e6e6e6"/>
<rect x="247.7" y="266.3" width="8.3" height="8.1" rx="1.3" fill="#6b6b6b"/>
<rect x="246.9" y="277.3" width="9.9" height="9.7" rx="2" fill="#e6e6e6"/>
<rect x="247.7" y="278.1" width="8.3" height="8.1" rx="1.3" fill="#6b6b6b"/>
<rect x="246.9" y="289.1" width="9.9" height="9.7" rx="2" fill="#e6e6e6"/>
<rect x="247.7" y="289.9" width="8.3" height="8.1" rx="1.3" fill="#6b6b6b"/>
<rect x="246.9" y="300.9" width="9.9" height="9.7" rx="2" fill="#e6e6e6"/>
<rect x="247.7" y="301.7" width="8.3" height="8.1" rx="1.3" fill="#6b6b6b"/>
<rect x="246.9" y="312.7" width="9.9" height="9.7" rx="2" fill="#e6e6e6"/>
<rect x="247.7" y="313.5" width="8.3" height="8.1" rx="1.3" fill="#6b6b6b"/>
<rect x="246.9" y="324.5" width="9.9" height="9.7" rx="2" fill="#e6e6e6"/>
<rect x="247.7" y="325.3" width="8.3" height="8.1" rx="1.3" fill="#6b6b6b"/>
<rect x="246.9" y="336.3" width="9.9" height="9.7" rx="2" fill="#e6e6e6"/>
<rect x="247.7" y="337.1" width="8.3" height="8.1" rx="1.3" fill="#6b6b6b"/>
<rect x="246.9" y="348.1" width="9.9" height="9.7" rx="2" fill="#e6e6e6"/>
<rect x="247.7" y="348.9" width="8.3" height="8.1" rx="1.3" fill="#6b6b6b"/>
<rect x="246.9" y="359.9" width="9.9" height="9.7" rx="2" fill="#e6e6e6"/>
<rect x="247.7" y="360.7" width="8.3" height="8.1" rx="1.3" fill="#6b6b6b"/>
<rect x="246.9" y="371.7" width="9.9" height="9.7" rx="2" fill="#e6e6e6"/>
<rect x="247.7" y="372.5" width="8.3" height="8.1" rx="1.3" fill="#6b6b6b"/>
<rect x="246.9" y="383.5" width="9.9" height="9.7" rx="2" fill="#e6e6e6"/>
<rect x="247.7" y="384.3" width="8.3" height="8.1" rx="1.3" fill="#6b6b6b"/>
<rect x="246.9" y="395.3" width="9.9" height="9.7" rx="2" fill="#e6e6e6"/>
<rect x="247.7" y="396.1" width="8.3" height="8.1" rx="1.3" fill="#6b6b6b"/>
<rect x="246.9" y="407.1" width="9.9" height="9.7" rx="2" fill="#e6e6e6"/>
<rect x="247.7" y="407.9" width="8.3" height="8.1" rx="1.3" fill="#6b6b6b"/>
<rect x="246.9" y="418.9" width="9.9" height="9.7" rx="2" fill="#e6e6e6"/>
<rect x="247.7" y="419.7" width="8.3" height="8.1" rx="1.3" fill="#6b6b6b"/>
<rect x="246.9" y="430.7" width="9.9" height="9.7" rx="2" fill="#e6e6e6"/>
<rect x="247.7" y="431.5" width="8.3" height="8.1" rx="1.3" fill="#6b6b6b"/>
<rect x="246.9" y="442.5" width="9.9" height="9.7" rx="2" fill="#e6e6e6"/>
<rect x="247.7" y="443.3" width="8.3" height="8.1" rx="1.3" fill="#6b6b6b"/>
<rect x="246.9" y="454.3" width="9.9" height="9.7" rx="2" fill="#e6e6e6"/>
<rect x="247.7" y="455.1" width="8.3" height="8.1" rx="1.3" fill="#6b6b6b"/>
<rect x="258.7" y="265.5" width="9.9" height="9.7" rx="2" fill="#e6e6e6"/>
<rect x="259.5" y="266.3" width="8.3" height="8.1" rx="1.3" fill="#6b6b6b"/>
<rect x="258.7" y="277.3" width="9.9" height="9.7" rx="2" fill="#e6e6e6"/>
<rect x="259.5" y="278.1" width="8.3" height="8.1" rx="1.3" fill="#6b6b6b"/>
<rect x="258.7" y="289.1" width="9.9" height="9.7" rx="2" fill="#e6e6e6"/>
<rect x="259.5" y="289.9" width="8.3" height="8.1" rx="1.3" fill="#6b6b6b"/>
<rect x="258.7" y="300.9" width="9.9" height="9.7" rx="2" fill="#e6e6e6"/>
<rect x="259.5" y="301.7" width="8.3" height="8.1" rx="1.3" fill="#6b6b6b"/>
<rect x="258.7" y="312.7" width="9.9" height="9.7" rx="2" fill="#e6e6e6"/>
<rect x="259.5" y="313.5" width="8.3" height="8.1" rx="1.3" fill="#6b6b6b"/>
<rect x="258.7" y="324.5" width="9.9" height="9.7" rx="2" fill="#e6e6e6"/>
<rect x="259.5" y="325.3" width="8.3" height="8.1" rx="1.3" fill="#6b6b6b"/>
<rect x="258.7" y="336.3" width="9.9" height="9.7" rx="2" fill="#e6e6e6"/>
<rect x="259.5" y="337.1" width="8.3" height="8.1" rx="1.3" fill="#6b6b6b"/>
<rect x="258.7" y="348.1" width="9.9" height="9.7" rx="2" fill="#e6e6e6"/>
<rect x="259.5" y="348.9" width="8.3" height="8.1" rx="1.3" fill="#6b6b6b"/>
<rect x="258.7" y="359.9" width="9.9" height="9.7" rx="2" fill="#e6e6e6"/>
<rect x="259.5" y="360.7" width="8.3" height="8.1" rx="1.3" fill="#6b6b6b"/>
<rect x="258.7" y="371.7" width="9.9" height="9.7" rx="2" fill="#e6e6e6"/>
<rect x="259.5" y="372.5" width="8.3" height="8.1" rx="1.3" fill="#6b6b6b"/>
<rect x="258.7" y="383.5" width="9.9" height="9.7" rx="2" fill="#e6e6e6"/>
<rect x="259.5" y="384.3" width="8.3" height="8.1" rx="1.3" fill="#6b6b6b"/>
<rect x="258.7" y="395.3" width="9.9" height="9.7" rx="2" fill="#e6e6e6"/>
<rect x="259.5" y="396.1" width="8.3" height="8.1" rx="1.3" fill="#6b6b6b"/>
<rect x="258.7" y="407.1" width="9.9" height="9.7" rx="2" fill="#e6e6e6"/>
<rect x="259.5" y="407.9" width="8.3" height="8.1" rx="1.3" fill="#6b6b6b"/>
<rect x="258.7" y="418.9" width="9.9" height="9.7" rx="2" fill="#e6e6e6"/>
<rect x="259.5" y="419.7" width="8.3" height="8.1" rx="1.3" fill="#6b6b6b"/>
<rect x="258.7" y="430.7" width="9.9" height="9.7" rx="2" fill="#e6e6e6"/>
<rect x="259.5" y="431.5" width="8.3" height="8.1" rx="1.3" fill="#6b6b6b"/>
<rect x="258.7" y="442.5" width="9.9" height="9.7" rx="2" fill="#e6e6e6"/>
<rect x="259.5" y="443.3" width="8.3" height="8.1" rx="1.3" fill="#6b6b6b"/>
<rect x="258.7" y="454.3" width="9.9" height="9.7" rx="2" fill="#e6e6e6"/>
<rect x="259.5" y="455.1" width="8.3" height="8.1" rx="1.3" fill="#6b6b6b"/>
<rect x="270.5" y="265.5" width="9.9" height="9.7" rx="2" fill="#e6e6e6"/>
<rect x="271.3" y="266.3" width="8.3" height="8.1" rx="1.3" fill="#6b6b6b"/>
<rect x="270.5" y="277.3" width="9.9" height="9.7" rx="2" fill="#e6e6e6"/>
<rect x="271.3" y="278.1" width="8.3" height="8.1" rx="1.3" fill="#6b6b6b"/>
<rect x="270.5" y="289.1" width="9.9" height="9.7" rx="2" fill="#e6e6e6"/>
<rect x="271.3" y="289.9" width="8.3" height="8.1" rx="1.3" fill="#6b6b6b"/>
<rect x="270.5" y="300.9" width="9.9" height="9.7" rx="2" fill="#e6e6e6"/>
<rect x="271.3" y="301.7" width="8.3" height="8.1" rx="1.3" fill="#6b6b6b"/>
<rect x="270.5" y="312.7" width="9.9" height="9.7" rx="2" fill="#e6e6e6"/>
<rect x="271.3" y="313.5" width="8.3" height="8.1" rx="1.3" fill="#6b6b6b"/>
<rect x="270.5" y="324.5" width="9.9" height="9.7" rx="2" fill="#e6e6e6"/>
<rect x="271.3" y="325.3" width="8.3" height="8.1" rx="1.3" fill="#6b6b6b"/>
<rect x="270.5" y="336.3" width="9.9" height="9.7" rx="2" fill="#e6e6e6"/>
<rect x="271.3" y="337.1" width="8.3" height="8.1" rx="1.3" fill="#6b6b6b"/>
<rect x="270.5" y="348.1" width="9.9" height="9.7" rx="2" fill="#e6e6e6"/>
<rect x="271.3" y="348.9" width="8.3" height="8.1" rx="1.3" fill="#6b6b6b"/>
<rect x="270.5" y="359.9" width="9.9" height="9.7" rx="2" fill="#e6e6e6"/>
<rect x="271.3" y="360.7" width="8.3" height="8.1" rx="1.3" fill="#6b6b6b"/>
<rect x="270.5" y="371.7" width="9.9" height="9.7" rx="2" fill="#e6e6e6"/>
<rect x="271.3" y="372.5" width="8.3" height="8.1" rx="1.3" fill="#6b6b6b"/>
<rect x="270.5" y="383.5" width="9.9" height="9.7" rx="2" fill="#e6e6e6"/>
<rect x="271.3" y="384.3" width="8.3" height="8.1" rx="1.3" fill="#6b6b6b"/>
<rect x="270.5" y="395.3" width="9.9" height="9.7" rx="2" fill="#e6e6e6"/>
<rect x="271.3" y="396.1" width="8.3" height="8.1" rx="1.3" fill="#6b6b6b"/>
<rect x="270.5" y="407.1" width="9.9" height="9.7" rx="2" fill="#e6e6e6"/>
<rect x="271.3" y="407.9" width="8.3" height="8.1" rx="1.3" fill="#6b6b6b"/>
<rect x="270.5" y="418.9" width="9.9" height="9.7" rx="2" fill="#e6e6e6"/>
<rect x="271.3" y="419.7" width="8.3" height="8.1" rx="1.3" fill="#6b6b6b"/>
<rect x="270.5" y="430.7" width="9.9" height="9.7" rx="2" fill="#e6e6e6"/>
<rect x="271.3" y="431.5" width="8.3" height="8.1" rx="1.3" fill="#6b6b6b"/>
<rect x="270.5" y="442.5" width="9.9" height="9.7" rx="2" fill="#e6e6e6"/>
<rect x="271.3" y="443.3" width="8.3" height="8.1" rx="1.3" fill="#6b6b6b"/>
<rect x="270.5" y="454.3" width="9.9" height="9.7" rx="2" fill="#e6e6e6"/>
<rect x="271.3" y="455.1" width="8.3" height="8.1" rx="1.3" fill="#6b6b6b"/>
<rect x="282.3" y="265.5" width="9.9" height="9.7" rx="2" fill="#e6e6e6"/>
<rect x="283.1" y="266.3" width="8.3" height="8.1" rx="1.3" fill="#6b6b6b"/>
<rect x="282.3" y="277.3" width="9.9" height="9.7" rx="2" fill="#e6e6e6"/>
<rect x="283.1" y="278.1" width="8.3" height="8.1" rx="1.3" fill="#6b6b6b"/>
<rect x="282.3" y="289.1" width="9.9" height="9.7" rx="2" fill="#e6e6e6"/>
<rect x="283.1" y="289.9" width="8.3" height="8.1" rx="1.3" fill="#6b6b6b"/>
<rect x="282.3" y="300.9" width="9.9" height="9.7" rx="2" fill="#e6e6e6"/>
<rect x="283.1" y="301.7" width="8.3" height="8.1" rx="1.3" fill="#6b6b6b"/>
<rect x="282.3" y="312.7" width="9.9" height="9.7" rx="2" fill="#e6e6e6"/>
<rect x="283.1" y="313.5" width="8.3" height="8.1" rx="1.3" fill="#6b6b6b"/>
<rect x="282.3" y="324.5" width="9.9" height="9.7" rx="2" fill="#e6e6e6"/>
<rect x="283.1" y="325.3" width="8.3" height="8.1" rx="1.3" fill="#6b6b6b"/>
<rect x="282.3" y="336.3" width="9.9" height="9.7" rx="2" fill="#e6e6e6"/>
<rect x="283.1" y="337.1" width="8.3" height="8.1" rx="1.3" fill="#6b6b6b"/>
<rect x="282.3" y="348.1" width="9.9" height="9.7" rx="2" fill="#e6e6e6"/>
<rect x="283.1" y="348.9" width="8.3" height="8.1" rx="1.3" fill="#6b6b6b"/>
<rect x="282.3" y="359.9" width="9.9" height="9.7" rx="2" fill="#e6e6e6"/>
<rect x="283.1" y="360.7" width="8.3" height="8.1" rx="1.3" fill="#6b6b6b"/>
<rect x="282.3" y="371.7" width="9.9" height="9.7" rx="2" fill="#e6e6e6"/>
<rect x="283.1" y="372.5" width="8.3" height="8.1" rx="1.3" fill="#6b6b6b"/>
<rect x="282.3" y="383.5" width="9.9" height="9.7" rx="2" fill="#e6e6e6"/>
<rect x="283.1" y="384.3" width="8.3" height="8.1" rx="1.3" fill="#6b6b6b"/>
<rect x="282.3" y="395.3" width="9.9" height="9.7" rx="2" fill="#e6e6e6"/>
<rect x="283.1" y="396.1" width="8.3" height="8.1" rx="1.3" fill="#6b6b6b"/>
<rect x="282.3" y="407.1" width="9.9" height="9.7" rx="2" fill="#e6e6e6"/>
<rect x="283.1" y="407.9" width="8.3" height="8.1" rx="1.3" fill="#6b6b6b"/>
<rect x="282.3" y="418.9" width="9.9" height="9.7" rx="2" fill="#e6e6e6"/>
<rect x="283.1" y="419.7" width="8.3" height="8.1" rx="1.3" fill="#6b6b6b"/>
<rect x="282.3" y="430.7" width="9.9" height="9.7" rx="2" fill="#e6e6e6"/>
<rect x="283.1" y="431.5" width="8.3" height="8.1" rx="1.3" fill="#6b6b6b"/>
<rect x="282.3" y="442.5" width="9.9" height="9.7" rx="2" fill="#e6e6e6"/>
<rect x="283.1" y="443.3" width="8.3" height="8.1" rx="1.3" fill="#6b6b6b"/>
<rect x="282.3" y="454.3" width="9.9" height="9.7" rx="2" fill="#e6e6e6"/>
<rect x="283.1" y="455.1" width="8.3" height="8.1" rx="1.3" fill="#6b6b6b"/>
<rect x="294.1" y="265.5" width="9.9" height="9.7" rx="2" fill="#e6e6e6"/>
<rect x="294.9" y="266.3" width="8.3" height="8.1" rx="1.3" fill="#6b6b6b"/>
<rect x="294.1" y="277.3" width="9.9" height="9.7" rx="2" fill="#e6e6e6"/>
<rect x="294.9" y="278.1" width="8.3" height="8.1" rx="1.3" fill="#6b6b6b"/>
<rect x="294.1" y="289.1" width="9.9" height="9.7" rx="2" fill="#e6e6e6"/>
<rect x="294.9" y="289.9" width="8.3" height="8.1" rx="1.3" fill="#6b6b6b"/>
<rect x="294.1" y="300.9" width="9.9" height="9.7" rx="2" fill="#e6e6e6"/>
<rect x="294.9" y="301.7" width="8.3" height="8.1" rx="1.3" fill="#6b6b6b"/>
<rect x="294.1" y="312.7" width="9.9" height="9.7" rx="2" fill="#e6e6e6"/>
<rect x="294.9" y="313.5" width="8.3" height="8.1" rx="1.3" fill="#6b6b6b"/>
<rect x="294.1" y="324.5" width="9.9" height="9.7" rx="2" fill="#e6e6e6"/>
<rect x="294.9" y="325.3" width="8.3" height="8.1" rx="1.3" fill="#6b6b6b"/>
<rect x="294.1" y="336.3" width="9.9" height="9.7" rx="2" fill="#e6e6e6"/>
<rect x="294.9" y="337.1" width="8.3" height="8.1" rx="1.3" fill="#6b6b6b"/>
<rect x="294.1" y="348.1" width="9.9" height="9.7" rx="2" fill="#e6e6e6"/>
<rect x="294.9" y="348.9" width="8.3" height="8.1" rx="1.3" fill="#6b6b6b"/>
<rect x="294.1" y="359.9" width="9.9" height="9.7" rx="2" fill="#e6e6e6"/>
<rect x="294.9" y="360.7" width="8.3" height="8.1" rx="1.3" fill="#6b6b6b"/>
<rect x="294.1" y="371.7" width="9.9" height="9.7" rx="2" fill="#e6e6e6"/>
<rect x="294.9" y="372.5" width="8.3" height="8.1" rx="1.3" fill="#6b6b6b"/>
<rect x="294.1" y="383.5" width="9.9" height="9.7" rx="2" fill="#e6e6e6"/>
<rect x="294.9" y="384.3" width="8.3" height="8.1" rx="1.3" fill="#6b6b6b"/>
<rect x="294.1" y="395.3" width="9.9" height="9.7" rx="2" fill="#e6e6e6"/>
<rect x="294.9" y="396.1" width="8.3" height="8.1" rx="1.3" fill="#6b6b6b"/>
<rect x="294.1" y="407.1" width="9.9" height="9.7" rx="2" fill="#e6e6e6"/>
<rect x="294.9" y="407.9" width="8.3" height="8.1" rx="1.3" fill="#6b6b6b"/>
<rect x="294.1" y="418.9" width="9.9" height="9.7" rx="2" fill="#e6e6e6"/>
<rect x="294.9" y="419.7" width="8.3" height="8.1" rx="1.3" fill="#6b6b6b"/>
<rect x="294.1" y="430.7" width="9.9" height="9.7" rx="2" fill="#e6e6e6"/>
<rect x="294.9" y="431.5" width="8.3" height="8.1" rx="1.3" fill="#6b6b6b"/>
<rect x="294.1" y="442.5" width="9.9" height="9.7" rx="2" fill="#e6e6e6"/>
<rect x="294.9" y="443.3" width="8.3" height="8.1" rx="1.3" fill="#6b6b6b"/>
<rect x="294.1" y="454.3" width="9.9" height="9.7" rx="2" fill="#e6e6e6"/>
<rect x="294.9" y="455.1" width="8.3" height="8.1" rx="1.3" fill="#6b6b6b"/>
<rect x="305.9" y="265.5" width="9.9" height="9.7" rx="2" fill="#e6e6e6"/>
<rect x="306.7" y="266.3" width="8.3" height="8.1" rx="1.3" fill="#6b6b6b"/>
<rect x="305.9" y="277.3" width="9.9" height="9.7" rx="2" fill="#e6e6e6"/>
<rect x="306.7" y="278.1" width="8.3" height="8.1" rx="1.3" fill="#6b6b6b"/>
<rect x="305.9" y="289.1" width="9.9" height="9.7" rx="2" fill="#e6e6e6"/>
<rect x="306.7" y="289.9" width="8.3" height="8.1" rx="1.3" fill="#6b6b6b"/>
<rect x="305.9" y="300.9" width="9.9" height="9.7" rx="2" fill="#e6e6e6"/>
<rect x="306.7" y="301.7" width="8.3" height="8.1" rx="1.3" fill="#6b6b6b"/>
<rect x="305.9" y="312.7" width="9.9" height="9.7" rx="2" fill="#e6e6e6"/>
<rect x="306.7" y="313.5" width="8.3" height="8.1" rx="1.3" fill="#6b6b6b"/>
<rect x="305.9" y="324.5" width="9.9" height="9.7" rx="2" fill="#e6e6e6"/>
<rect x="306.7" y="325.3" width="8.3" height="8.1" rx="1.3" fill="#6b6b6b"/>
<rect x="305.9" y="336.3" width="9.9" height="9.7" rx="2" fill="#e6e6e6"/>
<rect x="306.7" y="337.1" width="8.3" height="8.1" rx="1.3" fill="#6b6b6b"/>
<rect x="305.9" y="348.1" width="9.9" height="9.7" rx="2" fill="#e6e6e6"/>
<rect x="306.7" y="348.9" width="8.3" height="8.1" rx="1.3" fill="#6b6b6b"/>
<rect x="305.9" y="359.9" width="9.9" height="9.7" rx="2" fill="#e6e6e6"/>
<rect x="306.7" y="360.7" width="8.3" height="8.1" rx="1.3" fill="#6b6b6b"/>
<rect x="305.9" y="371.7" width="9.9" height="9.7" rx="2" fill="#e6e6e6"/>
<rect x="306.7" y="372.5" width="8.3" height="8.1" rx="1.3" fill="#6b6b6b"/>
<rect x="305.9" y="383.5" width="9.9" height="9.7" rx="2" fill="#e6e6e6"/>
<rect x="306.7" y="384.3" width="8.3" height="8.1" rx="1.3" fill="#6b6b6b"/>
<rect x="305.9" y="395.3" width="9.9" height="9.7" rx="2" fill="#e6e6e6"/>
<rect x="306.7" y="396.1" width="8.3" height="8.1" rx="1.3" fill="#6b6b6b"/>
<rect x="305.9" y="407.1" width="9.9" height="9.7" rx="2" fill="#e6e6e6"/>
<rect x="306.7" y="407.9" width="8.3" height="8.1" rx="1.3" fill="#6b6b6b"/>
<rect x="305.9" y="418.9" width="9.9" height="9.7" rx="2" fill="#e6e6e6"/>
<rect x="306.7" y="419.7" width="8.3" height="8.1" rx="1.3" fill="#6b6b6b"/>
<rect x="305.9" y="430.7" width="9.9" height="9.7" rx="2" fill="#e6e6e6"/>
<rect x="306.7" y="431.5" width="8.3" height="8.1" rx="1.3" fill="#6b6b6b"/>
<rect x="305.9" y="442.5" width="9.9" height="9.7" rx="2" fill="#e6e6e6"/>
<rect x="306.7" y="443.3" width="8.3" height="8.1" rx="1.3" fill="#6b6b6b"/>
<rect x="305.9" y="454.3" width="9.9" height="9.7" rx="2" fill="#e6e6e6"/>
<rect x="306.7" y="455.1" width="8.3" height="8.1" rx="1.3" fill="#6b6b6b"/>
<rect x="317.7" y="265.5" width="9.9" height="9.7" rx="2" fill="#e6e6e6"/>
<rect x="318.5" y="266.3" width="8.3" height="8.1" rx="1.3" fill="#6b6b6b"/>
<rect x="317.7" y="277.3" width="9.9" height="9.7" rx="2" fill="#e6e6e6"/>
<rect x="318.5" y="278.1" width="8.3" height="8.1" rx="1.3" fill="#6b6b6b"/>
<rect x="317.7" y="289.1" width="9.9" height="9.7" rx="2" fill="#e6e6e6"/>
<rect x="318.5" y="289.9" width="8.3" height="8.1" rx="1.3" fill="#6b6b6b"/>
<rect x="317.7" y="300.9" width="9.9" height="9.7" rx="2" fill="#e6e6e6"/>
<rect x="318.5" y="301.7" width="8.3" height="8.1" rx="1.3" fill="#6b6b6b"/>
<rect x="317.7" y="312.7" width="9.9" height="9.7" rx="2" fill="#e6e6e6"/>
<rect x="318.5" y="313.5" width="8.3" height="8.1" rx="1.3" fill="#6b6b6b"/>
<rect x="317.7" y="324.5" width="9.9" height="9.7" rx="2" fill="#e6e6e6"/>
<rect x="318.5" y="325.3" width="8.3" height="8.1" rx="1.3" fill="#6b6b6b"/>
<rect x="317.7" y="336.3" width="9.9" height="9.7" rx="2" fill="#e6e6e6"/>
<rect x="318.5" y="337.1" width="8.3" height="8.1" rx="1.3" fill="#6b6b6b"/>
<rect x="317.7" y="348.1" width="9.9" height="9.7" rx="2" fill="#e6e6e6"/>
<rect x="318.5" y="348.9" width="8.3" height="8.1" rx="1.3" fill="#6b6b6b"/>
<rect x="317.7" y="359.9" width="9.9" height="9.7" rx="2" fill="#e6e6e6"/>
<rect x="318.5" y="360.7" width="8.3" height="8.1" rx="1.3" fill="#6b6b6b"/>
<rect x="317.7" y="371.7" width="9.9" height="9.7" rx="2" fill="#e6e6e6"/>
<rect x="318.5" y="372.5" width="8.3" height="8.1" rx="1.3" fill="#6b6b6b"/>
<rect x="317.7" y="383.5" width="9.9" height="9.7" rx="2" fill="#e6e6e6"/>
<rect x="318.5" y="384.3" width="8.3" height="8.1" rx="1.3" fill="#6b6b6b"/>
<rect x="317.7" y="395.3" width="9.9" height="9.7" rx="2" fill="#e6e6e6"/>
<rect x="318.5" y="396.1" width="8.3" height="8.1" rx="1.3" fill="#6b6b6b"/>
<rect x="317.7" y="407.1" width="9.9" height="9.7" rx="2" fill="#e6e6e6"/>
<rect x="318.5" y="407.9" width="8.3" height="8.1" rx="1.3" fill="#6b6b6b"/>
<rect x="317.7" y="418.9" width="9.9" height="9.7" rx="2" fill="#e6e6e6"/>
<rect x="318.5" y="419.7" width="8.3" height="8.1" rx="1.3" fill="#6b6b6b"/>
<rect x="317.7" y="430.7" width="9.9" height="9.7" rx="2" fill="#e6e6e6"/>
<rect x="318.5" y="431.5" width="8.3" height="8.1" rx="1.3" fill="#6b6b6b"/>
<rect x="317.7" y="442.5" width="9.9" height="9.7" rx="2" fill="#e6e6e6"/>
<rect x="318.5" y="443.3" width="8.3" height="8.1" rx="1.3" fill="#6b6b6b"/>
<rect x="317.7" y="454.3" width="9.9" height="9.7" rx="2" fill="#e6e6e6"/>
<rect x="318.5" y="455.1" width="8.3" height="8.1" rx="1.3" fill="#6b6b6b"/>
<rect x="329.5" y="265.5" width="9.9" height="9.7" rx="2" fill="#e6e6e6"/>
<rect x="330.3" y="266.3" width="8.3" height="8.1" rx="1.3" fill="#6b6b6b"/>
<rect x="329.5" y="277.3" width="9.9" height="9.7" rx="2" fill="#e6e6e6"/>
<rect x="330.3" y="278.1" width="8.3" height="8.1" rx="1.3" fill="#6b6b6b"/>
<rect x="329.5" y="289.1" width="9.9" height="9.7" rx="2" fill="#e6e6e6"/>
<rect x="330.3" y="289.9" width="8.3" height="8.1" rx="1.3" fill="#6b6b6b"/>
<rect x="329.5" y="300.9" width="9.9" height="9.7" rx="2" fill="#e6e6e6"/>
<rect x="330.3" y="301.7" width="8.3" height="8.1" rx="1.3" fill="#6b6b6b"/>
<rect x="329.5" y="312.7" width="9.9" height="9.7" rx="2" fill="#e6e6e6"/>
<rect x="330.3" y="313.5" width="8.3" height="8.1" rx="1.3" fill="#6b6b6b"/>
<rect x="329.5" y="324.5" width="9.9" height="9.7" rx="2" fill="#e6e6e6"/>
<rect x="330.3" y="325.3" width="8.3" height="8.1" rx="1.3" fill="#6b6b6b"/>
<rect x="329.5" y="336.3" width="9.9" height="9.7" rx="2" fill="#e6e6e6"/>
<rect x="330.3" y="337.1" width="8.3" height="8.1" rx="1.3" fill="#6b6b6b"/>
<rect x="329.5" y="348.1" width="9.9" height="9.7" rx="2" fill="#e6e6e6"/>
<rect x="330.3" y="348.9" width="8.3" height="8.1" rx="1.3" fill="#6b6b6b"/>
<rect x="329.5" y="359.9" width="9.9" height="9.7" rx="2" fill="#e6e6e6"/>
<rect x="330.3" y="360.7" width="8.3" height="8.1" rx="1.3" fill="#6b6b6b"/>
<rect x="329.5" y="371.7" width="9.9" height="9.7" rx="2" fill="#e6e6e6"/>
<rect x="330.3" y="372.5" width="8.3" height="8.1" rx="1.3" fill="#6b6b6b"/>
<rect x="329.5" y="383.5" width="9.9" height="9.7" rx="2" fill="#e6e6e6"/>
<rect x="330.3" y="384.3" width="8.3" height="8.1" rx="1.3" fill="#6b6b6b"/>
<rect x="329.5" y="395.3" width="9.9" height="9.7" rx="2" fill="#e6e6e6"/>
<rect x="330.3" y="396.1" width="8.3" height="8.1" rx="1.3" fill="#6b6b6b"/>
<rect x="329.5" y="407.1" width="9.9" height="9.7" rx="2" fill="#e6e6e6"/>
<rect x="330.3" y="407.9" width="8.3" height="8.1" rx="1.3" fill="#6b6b6b"/>
<rect x="329.5" y="418.9" width="9.9" height="9.7" rx="2" fill="#e6e6e6"/>
<rect x="330.3" y="419.7" width="8.3" height="8.1" rx="1.3" fill="#6b6b6b"/>
<rect x="329.5" y="430.7" width="9.9" height="9.7" rx="2" fill="#e6e6e6"/>
<rect x="330.3" y="431.5" width="8.3" height="8.1" rx="1.3" fill="#6b6b6b"/>
<rect x="329.5" y="442.5" width="9.9" height="9.7" rx="2" fill="#e6e6e6"/>
<rect x="330.3" y="443.3" width="8.3" height="8.1" rx="1.3" fill="#6b6b6b"/>
<rect x="329.5" y="454.3" width="9.9" height="9.7" rx="2" fill="#e6e6e6"/>
<rect x="330.3" y="455.1" width="8.3" height="8.1" rx="1.3" fill="#6b6b6b"/>
</g></g>
<clipPath id="fsc1c"><rect x="361" y="267.2" width="144.5" height="179.6"/></clipPath>
<g clip-path="url(#fsc1c)"><g filter="url(#fsc1)">
<rect x="361" y="267.2" width="144.5" height="179.6" fill="#f5f5f5"/>
<rect x="361" y="252.46" width="144.5" height="7.8" fill="#8a8a8a"/>
<rect x="361" y="252.46" width="144.5" height="1" fill="#575757"/>
<rect x="361" y="259.26" width="144.5" height="1" fill="#575757"/>
<rect x="504.2" y="252.46" width="1.3" height="7.8" fill="#737373"/>
<rect x="361" y="264.38" width="144.5" height="7.8" fill="#8a8a8a"/>
<rect x="361" y="264.38" width="144.5" height="1" fill="#575757"/>
<rect x="361" y="271.18" width="144.5" height="1" fill="#575757"/>
<rect x="504.2" y="264.38" width="1.3" height="7.8" fill="#737373"/>
<rect x="361" y="276.3" width="144.5" height="7.8" fill="#8a8a8a"/>
<rect x="361" y="276.3" width="144.5" height="1" fill="#575757"/>
<rect x="361" y="283.1" width="144.5" height="1" fill="#575757"/>
<rect x="504.2" y="276.3" width="1.3" height="7.8" fill="#737373"/>
<rect x="361" y="288.22" width="144.5" height="7.8" fill="#8a8a8a"/>
<rect x="361" y="288.22" width="144.5" height="1" fill="#575757"/>
<rect x="361" y="295.02" width="144.5" height="1" fill="#575757"/>
<rect x="504.2" y="288.22" width="1.3" height="7.8" fill="#737373"/>
<rect x="361" y="300.14" width="144.5" height="7.8" fill="#8a8a8a"/>
<rect x="361" y="300.14" width="144.5" height="1" fill="#575757"/>
<rect x="361" y="306.94" width="144.5" height="1" fill="#575757"/>
<rect x="504.2" y="300.14" width="1.3" height="7.8" fill="#737373"/>
<rect x="361" y="312.06" width="144.5" height="7.8" fill="#8a8a8a"/>
<rect x="361" y="312.06" width="144.5" height="1" fill="#575757"/>
<rect x="361" y="318.86" width="144.5" height="1" fill="#575757"/>
<rect x="504.2" y="312.06" width="1.3" height="7.8" fill="#737373"/>
<rect x="361" y="323.98" width="144.5" height="7.8" fill="#8a8a8a"/>
<rect x="361" y="323.98" width="144.5" height="1" fill="#575757"/>
<rect x="361" y="330.78" width="144.5" height="1" fill="#575757"/>
<rect x="504.2" y="323.98" width="1.3" height="7.8" fill="#737373"/>
<rect x="361" y="335.9" width="144.5" height="7.8" fill="#8a8a8a"/>
<rect x="361" y="335.9" width="144.5" height="1" fill="#575757"/>
<rect x="361" y="342.7" width="144.5" height="1" fill="#575757"/>
<rect x="504.2" y="335.9" width="1.3" height="7.8" fill="#737373"/>
<rect x="361" y="347.82" width="144.5" height="7.8" fill="#8a8a8a"/>
<rect x="361" y="347.82" width="144.5" height="1" fill="#575757"/>
<rect x="361" y="354.62" width="144.5" height="1" fill="#575757"/>
<rect x="504.2" y="347.82" width="1.3" height="7.8" fill="#737373"/>
<rect x="361" y="359.74" width="144.5" height="7.8" fill="#8a8a8a"/>
<rect x="361" y="359.74" width="144.5" height="1" fill="#575757"/>
<rect x="361" y="366.54" width="144.5" height="1" fill="#575757"/>
<rect x="504.2" y="359.74" width="1.3" height="7.8" fill="#737373"/>
<rect x="361" y="371.66" width="144.5" height="7.8" fill="#8a8a8a"/>
<rect x="361" y="371.66" width="144.5" height="1" fill="#575757"/>
<rect x="361" y="378.46" width="144.5" height="1" fill="#575757"/>
<rect x="504.2" y="371.66" width="1.3" height="7.8" fill="#737373"/>
<rect x="361" y="383.58" width="144.5" height="7.8" fill="#8a8a8a"/>
<rect x="361" y="383.58" width="144.5" height="1" fill="#575757"/>
<rect x="361" y="390.38" width="144.5" height="1" fill="#575757"/>
<rect x="504.2" y="383.58" width="1.3" height="7.8" fill="#737373"/>
<rect x="361" y="395.5" width="144.5" height="7.8" fill="#8a8a8a"/>
<rect x="361" y="395.5" width="144.5" height="1" fill="#575757"/>
<rect x="361" y="402.3" width="144.5" height="1" fill="#575757"/>
<rect x="504.2" y="395.5" width="1.3" height="7.8" fill="#737373"/>
<rect x="361" y="407.42" width="144.5" height="7.8" fill="#8a8a8a"/>
<rect x="361" y="407.42" width="144.5" height="1" fill="#575757"/>
<rect x="361" y="414.22" width="144.5" height="1" fill="#575757"/>
<rect x="504.2" y="407.42" width="1.3" height="7.8" fill="#737373"/>
<rect x="361" y="419.34" width="144.5" height="7.8" fill="#8a8a8a"/>
<rect x="361" y="419.34" width="144.5" height="1" fill="#575757"/>
<rect x="361" y="426.14" width="144.5" height="1" fill="#575757"/>
<rect x="504.2" y="419.34" width="1.3" height="7.8" fill="#737373"/>
<rect x="361" y="431.26" width="144.5" height="7.8" fill="#8a8a8a"/>
<rect x="361" y="431.26" width="144.5" height="1" fill="#575757"/>
<rect x="361" y="438.06" width="144.5" height="1" fill="#575757"/>
<rect x="504.2" y="431.26" width="1.3" height="7.8" fill="#737373"/>
<rect x="361" y="443.18" width="144.5" height="7.8" fill="#8a8a8a"/>
<rect x="361" y="443.18" width="144.5" height="1" fill="#575757"/>
<rect x="361" y="449.98" width="144.5" height="1" fill="#575757"/>
<rect x="504.2" y="443.18" width="1.3" height="7.8" fill="#737373"/>
</g></g>
<clipPath id="fsc2c"><rect x="509" y="267.2" width="139" height="179.6"/></clipPath>
<g clip-path="url(#fsc2c)"><g filter="url(#fsc2)">
<rect x="509" y="267.2" width="139" height="179.6" fill="#f5f5f5"/>
<rect x="509" y="253.26" width="139" height="7.5" fill="#808080"/>
<rect x="509" y="253.26" width="139" height="1" fill="#4c4c4c"/>
<rect x="509" y="259.76" width="139" height="1" fill="#4c4c4c"/>
<rect x="509" y="253.26" width="1.5" height="7.5" fill="#4c4c4c"/>
<rect x="510.5" y="253.26" width="3" height="7.5" fill="#6b6b6b"/>
<rect x="509" y="265.18" width="139" height="7.5" fill="#808080"/>
<rect x="509" y="265.18" width="139" height="1" fill="#4c4c4c"/>
<rect x="509" y="271.68" width="139" height="1" fill="#4c4c4c"/>
<rect x="509" y="265.18" width="1.5" height="7.5" fill="#4c4c4c"/>
<rect x="510.5" y="265.18" width="3" height="7.5" fill="#6b6b6b"/>
<rect x="509" y="277.1" width="139" height="7.5" fill="#808080"/>
<rect x="509" y="277.1" width="139" height="1" fill="#4c4c4c"/>
<rect x="509" y="283.6" width="139" height="1" fill="#4c4c4c"/>
<rect x="509" y="277.1" width="1.5" height="7.5" fill="#4c4c4c"/>
<rect x="510.5" y="277.1" width="3" height="7.5" fill="#6b6b6b"/>
<rect x="509" y="289.02" width="139" height="7.5" fill="#808080"/>
<rect x="509" y="289.02" width="139" height="1" fill="#4c4c4c"/>
<rect x="509" y="295.52" width="139" height="1" fill="#4c4c4c"/>
<rect x="509" y="289.02" width="1.5" height="7.5" fill="#4c4c4c"/>
<rect x="510.5" y="289.02" width="3" height="7.5" fill="#6b6b6b"/>
<rect x="509" y="300.94" width="139" height="7.5" fill="#808080"/>
<rect x="509" y="300.94" width="139" height="1" fill="#4c4c4c"/>
<rect x="509" y="307.44" width="139" height="1" fill="#4c4c4c"/>
<rect x="509" y="300.94" width="1.5" height="7.5" fill="#4c4c4c"/>
<rect x="510.5" y="300.94" width="3" height="7.5" fill="#6b6b6b"/>
<rect x="509" y="312.86" width="139" height="7.5" fill="#808080"/>
<rect x="509" y="312.86" width="139" height="1" fill="#4c4c4c"/>
<rect x="509" y="319.36" width="139" height="1" fill="#4c4c4c"/>
<rect x="509" y="312.86" width="1.5" height="7.5" fill="#4c4c4c"/>
<rect x="510.5" y="312.86" width="3" height="7.5" fill="#6b6b6b"/>
<rect x="509" y="324.78" width="139" height="7.5" fill="#808080"/>
<rect x="509" y="324.78" width="139" height="1" fill="#4c4c4c"/>
<rect x="509" y="331.28" width="139" height="1" fill="#4c4c4c"/>
<rect x="509" y="324.78" width="1.5" height="7.5" fill="#4c4c4c"/>
<rect x="510.5" y="324.78" width="3" height="7.5" fill="#6b6b6b"/>
<rect x="509" y="336.7" width="139" height="7.5" fill="#808080"/>
<rect x="509" y="336.7" width="139" height="1" fill="#4c4c4c"/>
<rect x="509" y="343.2" width="139" height="1" fill="#4c4c4c"/>
<rect x="509" y="336.7" width="1.5" height="7.5" fill="#4c4c4c"/>
<rect x="510.5" y="336.7" width="3" height="7.5" fill="#6b6b6b"/>
<rect x="509" y="348.62" width="139" height="7.5" fill="#808080"/>
<rect x="509" y="348.62" width="139" height="1" fill="#4c4c4c"/>
<rect x="509" y="355.12" width="139" height="1" fill="#4c4c4c"/>
<rect x="509" y="348.62" width="1.5" height="7.5" fill="#4c4c4c"/>
<rect x="510.5" y="348.62" width="3" height="7.5" fill="#6b6b6b"/>
<rect x="509" y="360.54" width="139" height="7.5" fill="#808080"/>
<rect x="509" y="360.54" width="139" height="1" fill="#4c4c4c"/>
<rect x="509" y="367.04" width="139" height="1" fill="#4c4c4c"/>
<rect x="509" y="360.54" width="1.5" height="7.5" fill="#4c4c4c"/>
<rect x="510.5" y="360.54" width="3" height="7.5" fill="#6b6b6b"/>
<rect x="509" y="372.46" width="139" height="7.5" fill="#808080"/>
<rect x="509" y="372.46" width="139" height="1" fill="#4c4c4c"/>
<rect x="509" y="378.96" width="139" height="1" fill="#4c4c4c"/>
<rect x="509" y="372.46" width="1.5" height="7.5" fill="#4c4c4c"/>
<rect x="510.5" y="372.46" width="3" height="7.5" fill="#6b6b6b"/>
<rect x="509" y="384.38" width="139" height="7.5" fill="#808080"/>
<rect x="509" y="384.38" width="139" height="1" fill="#4c4c4c"/>
<rect x="509" y="390.88" width="139" height="1" fill="#4c4c4c"/>
<rect x="509" y="384.38" width="1.5" height="7.5" fill="#4c4c4c"/>
<rect x="510.5" y="384.38" width="3" height="7.5" fill="#6b6b6b"/>
<rect x="509" y="396.3" width="139" height="7.5" fill="#808080"/>
<rect x="509" y="396.3" width="139" height="1" fill="#4c4c4c"/>
<rect x="509" y="402.8" width="139" height="1" fill="#4c4c4c"/>
<rect x="509" y="396.3" width="1.5" height="7.5" fill="#4c4c4c"/>
<rect x="510.5" y="396.3" width="3" height="7.5" fill="#6b6b6b"/>
<rect x="509" y="408.22" width="139" height="7.5" fill="#808080"/>
<rect x="509" y="408.22" width="139" height="1" fill="#4c4c4c"/>
<rect x="509" y="414.72" width="139" height="1" fill="#4c4c4c"/>
<rect x="509" y="408.22" width="1.5" height="7.5" fill="#4c4c4c"/>
<rect x="510.5" y="408.22" width="3" height="7.5" fill="#6b6b6b"/>
<rect x="509" y="420.14" width="139" height="7.5" fill="#808080"/>
<rect x="509" y="420.14" width="139" height="1" fill="#4c4c4c"/>
<rect x="509" y="426.64" width="139" height="1" fill="#4c4c4c"/>
<rect x="509" y="420.14" width="1.5" height="7.5" fill="#4c4c4c"/>
<rect x="510.5" y="420.14" width="3" height="7.5" fill="#6b6b6b"/>
<rect x="509" y="432.06" width="139" height="7.5" fill="#808080"/>
<rect x="509" y="432.06" width="139" height="1" fill="#4c4c4c"/>
<rect x="509" y="438.56" width="139" height="1" fill="#4c4c4c"/>
<rect x="509" y="432.06" width="1.5" height="7.5" fill="#4c4c4c"/>
<rect x="510.5" y="432.06" width="3" height="7.5" fill="#6b6b6b"/>
<rect x="509" y="443.98" width="139" height="7.5" fill="#808080"/>
<rect x="509" y="443.98" width="139" height="1" fill="#4c4c4c"/>
<rect x="509" y="450.48" width="139" height="1" fill="#4c4c4c"/>
<rect x="509" y="443.98" width="1.5" height="7.5" fill="#4c4c4c"/>
<rect x="510.5" y="443.98" width="3" height="7.5" fill="#6b6b6b"/>
</g></g>
<rect x="505.5" y="267.2" width="3.5" height="179.6" fill="#ededed"/>
<rect x="363.8" y="406.1" width="44.9" height="34.5" fill="#fff"/>
<rect x="370" y="432.1" width="29.2" height="3.8" fill="#000"/>
<text x="370.6" y="426.2" font-size="12.3" fill="#111" textLength="26.4" lengthAdjust="spacingAndGlyphs">1 µm</text>
<path d="M86.7,276.3 L52.6,276.3 L52.6,310.3" fill="none" stroke="#000" stroke-width="1.5"/>
<path d="M92.7,276.3 L85.7,273.1 L85.7,279.5 Z" fill="#000"/>
<path d="M52.6,316.3 L49.4,309.3 L55.8,309.3 Z" fill="#000"/>
<text x="86.4" y="288.6" font-size="11.5" fill="#000" font-style="italic">y</text>
<text x="59.6" y="316" font-size="11.5" fill="#000" font-style="italic">x</text>
<path d="M402.7,276.3 L368.8,276.3 L368.8,310" fill="none" stroke="#000" stroke-width="1.5"/>
<path d="M408.7,276.3 L401.7,273.1 L401.7,279.5 Z" fill="#000"/>
<path d="M368.8,316 L365.6,309 L372,309 Z" fill="#000"/>
<text x="401.4" y="288.8" font-size="11.5" fill="#000" font-style="italic">y</text>
<text x="374.8" y="315.5" font-size="11.5" fill="#000" font-style="italic">x</text>
<rect x="45.2" y="467.3" width="73.2" height="197" fill="#9f93b9"/>
<rect x="221.7" y="467.3" width="73.7" height="197" fill="#9f93b9"/>
<clipPath id="cd"><rect x="45.2" y="467.3" width="250.2" height="197"/></clipPath>
<g clip-path="url(#cd)">
<path d="M45.37,470.56 L45.68,472.16 L45.99,473.76 L46.30,475.36 L46.61,476.96 L46.93,478.56 L47.26,480.15 L47.58,481.75 L47.91,483.34 L48.24,484.94 L48.58,486.53 L48.92,488.13 L49.26,489.72 L49.60,491.31 L49.95,492.90 L50.30,494.49 L50.66,496.08 L51.01,497.67 L51.37,499.26 L51.73,500.85 L52.10,502.43 L52.46,504.02 L52.83,505.61 L53.20,507.19 L53.57,508.78 L53.95,510.36 L54.33,511.95 L54.71,513.53 L55.09,515.11 L55.47,516.70 L55.86,518.28 L56.25,519.86 L56.64,521.44 L57.03,523.03 L57.42,524.61 L57.81,526.19 L58.21,527.77 L58.61,529.35 L59.01,530.93 L59.41,532.51 L59.81,534.09 L60.21,535.66 L60.61,537.24 L61.02,538.82 L61.42,540.40 L61.83,541.98 L62.24,543.56 L62.65,545.13 L63.06,546.71 L63.47,548.29 L63.88,549.86 L64.29,551.44 L64.70,553.02 L65.11,554.60 L65.53,556.17 L65.94,557.75 L66.35,559.33 L66.55,560.90 L66.76,562.48 L67.77,564.05 L67.49,565.63 L68.46,567.21 L68.67,568.78 L68.72,570.36 L69.67,571.94 L69.52,573.51 L70.41,575.09 L70.39,576.67 L70.82,578.25 L71.64,579.82 L72.53,581.40 L72.10,582.98 L72.63,584.56 L73.52,586.13 L74.31,587.71 L74.28,589.29 L74.47,590.87 L75.57,592.45 L74.86,594.03 L76.23,595.61 L75.95,597.19 L76.18,598.77 L76.55,600.35 L77.17,601.93 L78.18,603.51 L77.81,605.09 L78.69,606.67 L79.15,608.25 L79.22,609.84 L79.82,611.42 L79.62,613.00 L80.01,614.59 L80.56,616.17 L81.51,617.75 L81.59,619.34 L81.83,620.93 L82.53,622.51 L82.75,624.10 L82.93,625.69 L83.89,627.27 L84.14,628.86 L83.96,630.45 L84.72,632.04 L85.02,633.63 L85.79,635.22 L85.97,636.82 L85.79,638.41 L86.97,640.00 L86.28,641.59 L86.98,643.19 L87.72,644.78 L87.33,646.38 L88.07,647.98 L87.86,649.57 L88.94,651.17 L89.37,652.77 L89.46,654.37 L90.14,655.97 L89.78,657.57 L90.54,659.18" fill="none" stroke="#3d2379" stroke-width="1.9" stroke-linejoin="round"/>
<path d="M45.11,470.62 L45.56,472.19 L46.01,473.76 L46.45,475.33 L46.90,476.90 L47.35,478.47 L47.79,480.04 L48.24,481.61 L48.69,483.18 L49.13,484.75 L49.58,486.32 L50.02,487.89 L50.47,489.46 L50.92,491.03 L51.36,492.60 L51.80,494.17 L52.25,495.74 L52.69,497.31 L53.14,498.88 L53.58,500.45 L54.02,502.02 L54.46,503.59 L54.91,505.16 L55.35,506.73 L55.79,508.30 L56.23,509.87 L56.67,511.44 L57.10,513.01 L57.54,514.59 L57.98,516.16 L58.41,517.73 L58.85,519.30 L59.28,520.87 L59.71,522.44 L60.15,524.02 L60.58,525.59 L61.01,527.16 L61.44,528.74 L61.87,530.31 L62.29,531.88 L62.72,533.46 L63.14,535.03 L63.57,536.60 L63.99,538.18 L64.41,539.75 L64.83,541.33 L65.25,542.90 L65.66,544.48 L66.08,546.06 L66.49,547.63 L66.90,549.21 L67.31,550.79 L67.72,552.36 L68.13,553.94 L68.54,555.52 L68.94,557.10 L69.34,558.68 L69.42,560.25 L70.70,561.83 L70.09,563.41 L71.18,564.99 L70.83,566.58 L71.42,568.16 L72.71,569.74 L72.15,571.32 L73.06,572.90 L73.22,574.49 L73.60,576.07 L74.03,577.65 L74.04,579.24 L75.19,580.82 L74.67,582.41 L75.22,583.99 L75.33,585.58 L75.99,587.17 L76.52,588.76 L77.48,590.34 L77.21,591.93 L77.25,593.52 L77.78,595.11 L79.01,596.70 L78.25,598.29 L79.27,599.88 L79.32,601.48 L80.00,603.07 L79.96,604.66 L80.72,606.26 L80.82,607.85 L81.33,609.45 L81.96,611.04 L81.91,612.64 L81.70,614.24 L81.93,615.83 L83.31,617.43 L83.07,619.03 L83.03,620.63 L84.24,622.23 L84.11,623.83 L84.59,625.43 L85.07,627.04 L84.65,628.64 L85.03,630.25 L85.95,631.85 L85.35,633.46 L86.38,635.06 L85.87,636.67 L86.85,638.28 L87.14,639.89 L87.71,641.50 L87.85,643.11 L87.71,644.72 L87.60,646.33 L87.80,647.94 L88.51,649.56 L88.73,651.17 L88.45,652.79 L89.69,654.40 L89.46,656.02 L89.93,657.64 L89.58,659.26" fill="none" stroke="#3d2379" stroke-width="1.9" stroke-linejoin="round"/>
<path d="M296.26,505.69 L295.73,507.09 L295.19,508.48 L294.66,509.88 L294.13,511.27 L293.60,512.67 L293.08,514.07 L292.55,515.47 L292.03,516.87 L291.52,518.27 L291.00,519.67 L290.66,521.07 L290.31,522.47 L289.88,523.88 L289.57,525.28 L288.79,526.68 L288.54,528.09 L286.79,529.49 L286.90,530.90 L287.07,532.30 L286.17,533.71 L286.03,535.12 L284.44,536.53 L284.45,537.93 L283.66,539.34 L283.59,540.75 L283.16,542.16 L281.90,543.58 L281.71,544.99 L281.33,546.40 L281.75,547.81 L281.07,549.23 L279.76,550.64 L280.20,552.06 L278.82,553.48 L279.03,554.89 L277.89,556.31 L277.27,557.73 L278.04,559.15 L276.67,560.57 L276.24,561.99 L276.88,563.41 L276.29,564.83 L275.04,566.26 L275.55,567.68 L274.53,569.10 L274.31,570.53 L273.22,571.96 L273.84,573.38 L273.07,574.81 L273.05,576.24 L272.54,577.67 L271.30,579.10 L270.99,580.53 L270.31,581.96 L269.89,583.39 L269.38,584.83 L269.33,586.26 L269.36,587.69 L268.14,589.13 L268.71,590.57 L267.85,592.00 L267.44,593.44 L267.78,594.88 L266.94,596.32 L266.35,597.76 L266.21,599.20 L266.17,600.64 L264.90,602.09 L265.83,603.53 L264.15,604.97 L264.81,606.42 L264.60,607.86 L263.09,609.30 L263.82,610.75 L262.88,612.19 L262.84,613.64 L261.70,615.09 L261.41,616.53 L261.25,617.98 L262.00,619.42 L260.59,620.87 L261.04,622.32 L260.94,623.76 L260.62,625.21 L259.44,626.66 L259.11,628.10 L259.01,629.55 L259.02,630.99 L257.75,632.44 L258.30,633.88 L258.03,635.33 L257.77,636.77 L256.27,638.22 L257.20,639.66 L255.65,641.11 L255.65,642.55 L255.68,643.99 L255.76,645.43 L254.59,646.88 L255.05,648.32 L254.16,649.76 L253.48,651.20 L253.12,652.64 L252.56,654.07 L252.05,655.51 L251.77,656.95 L252.15,658.38 L252.21,659.82 L250.66,661.25" fill="none" stroke="#3d2379" stroke-width="2.1" stroke-linejoin="round"/>
<path d="M296.23,505.69 L295.65,507.07 L295.08,508.45 L294.51,509.84 L293.94,511.22 L293.37,512.61 L292.80,514.00 L292.24,515.38 L291.68,516.77 L291.12,518.16 L290.57,519.55 L290.42,520.94 L289.91,522.33 L288.89,523.72 L288.03,525.11 L287.12,526.50 L287.51,527.90 L286.71,529.29 L286.58,530.69 L285.50,532.08 L285.53,533.48 L284.31,534.88 L284.53,536.27 L283.91,537.67 L282.95,539.07 L282.61,540.47 L282.30,541.88 L281.11,543.28 L281.11,544.68 L280.96,546.09 L279.71,547.49 L279.97,548.90 L279.31,550.31 L279.05,551.71 L277.86,553.12 L277.04,554.53 L277.55,555.95 L277.09,557.36 L276.12,558.77 L275.16,560.18 L274.85,561.60 L275.01,563.02 L274.07,564.43 L274.55,565.85 L273.60,567.27 L272.62,568.69 L272.82,570.11 L271.97,571.54 L272.35,572.96 L271.90,574.39 L270.93,575.81 L270.69,577.24 L270.36,578.67 L270.11,580.10 L269.95,581.53 L268.23,582.96 L268.30,584.40 L268.25,585.83 L267.46,587.27 L267.48,588.71 L266.41,590.15 L267.15,591.59 L266.30,593.03 L265.37,594.47 L265.78,595.91 L264.94,597.36 L264.44,598.80 L264.50,600.25 L263.68,601.70 L263.45,603.15 L264.04,604.60 L263.48,606.05 L262.19,607.50 L262.94,608.95 L261.56,610.40 L261.69,611.86 L262.17,613.31 L261.46,614.76 L260.71,616.22 L260.51,617.67 L260.22,619.13 L259.54,620.58 L260.46,622.04 L258.83,623.50 L259.05,624.95 L259.19,626.41 L258.40,627.87 L258.92,629.32 L257.59,630.78 L258.31,632.23 L257.88,633.69 L257.27,635.15 L257.27,636.60 L256.34,638.06 L256.57,639.51 L256.22,640.97 L255.51,642.42 L255.14,643.88 L255.15,645.33 L254.42,646.78 L253.65,648.23 L254.25,649.68 L253.25,651.13 L253.23,652.58 L253.31,654.03 L252.12,655.48 L251.57,656.93 L251.37,658.37 L251.68,659.82 L251.01,661.26" fill="none" stroke="#3d2379" stroke-width="1.9" stroke-linejoin="round"/>
<path d="M88.5,655 L90,659.5 L91.5,662.5 L94.87,662.08 L96.39,662.24 L99.14,662.31 L99.14,663 L99.67,659.27 L100.19,660.44 L100.78,663 L103.44,663 L104.1,654.87 L104.75,659.3 L105.48,663 L109.75,662.75 L109.75,663 L110.64,657.58 L111.52,659.91 L112.51,663 L115.52,663 L116.51,660.15 L117.5,661.48 L118.6,663 L120.16,663 L121.05,658.57 L121.94,660.33 L122.92,663 L128.88,662.67 L130.19,662.51 L131.43,662.85 L133.29,662.73 L134.39,662.77 L134.39,663 L134.85,657.6 L135.3,658.73 L135.8,663 L140.51,662.36 L141.62,662.2 L141.62,663 L142.43,659.13 L143.24,661.2 L144.15,663 L148.92,662.06 L151.5,662.77 L153.9,662.81 L156.39,661.92 L159.14,662.5 L159.14,663 L159.65,660.2 L160.16,661.67 L160.73,663 L162.78,663 L163.35,660.25 L163.91,660.85 L164.55,663 L169.46,662.64 L169.46,663 L169.91,659.61 L170.37,661.52 L170.87,663 L174.47,661.82 L177.09,662.92 L177.09,663 L178.13,657.61 L179.16,659.07 L180.3,663 L185.55,662.65 L186.75,661.82 L186.75,663 L187.64,654.91 L188.52,659.38 L189.5,663 L194.9,662.03 L194.9,663 L195.6,653.5 L196.3,659.18 L197.07,663 L200.37,663 L201.3,658.75 L202.24,660.56 L203.28,663 L207.25,663 L208.32,659.88 L209.39,660.35 L210.57,663 L214.5,662.35 L214.5,663 L215.17,657.3 L215.84,660.22 L216.58,663 L219.61,662.53 L219.61,663 L220.38,654.49 L221.15,656.28 L222.01,663 L228.53,662.21 L228.53,663 L229.28,658.28 L230.04,660.11 L230.88,663 L236.83,662.33 L239.23,662.18 L241.74,662.1 L243.8,662.56 L243.8,663 L244.64,656.46 L245.49,656.71 L246.43,663 L247.67,663 L248.67,660.42 L249.68,661.71 L250.8,663 L250.5,662" fill="none" stroke="#3d2379" stroke-width="2.3" stroke-linejoin="round"/>
<path d="M88.5,655 L90,659.5 L91.5,662.5 L93.68,662.26 L96.35,662.38 L98.09,662.37 L98.09,663 L99.12,655 L100.16,655.13 L101.3,663 L103.46,663 L103.97,658.1 L104.47,660.82 L105.04,663 L106.76,663 L107.61,653.87 L108.47,656.21 L109.41,663 L111.75,662.5 L111.75,663 L112.64,658.53 L113.54,660.61 L114.53,663 L119.01,662.97 L119.01,663 L119.9,654.32 L120.79,656.87 L121.78,663 L127.08,662.14 L127.08,663 L127.81,659.86 L128.53,661.55 L129.34,663 L132.22,663 L132.88,659.78 L133.55,661.66 L134.29,663 L138.28,663 L139.25,660.03 L140.21,661.3 L141.29,663 L142.17,663 L143.06,657.87 L143.94,659.62 L144.93,663 L148.41,662.67 L149.52,662.1 L149.52,663 L150,657.03 L150.48,657.67 L151.01,663 L156.47,662.58 L159.31,662.95 L161.66,662.76 L163.26,662.99 L163.26,663 L163.85,657.86 L164.44,657.89 L165.09,663 L168.54,663 L169.57,654.82 L170.61,655.56 L171.77,663 L174.12,663 L174.99,659.16 L175.85,660.14 L176.8,663 L178.96,662.83 L178.96,663 L179.71,658.3 L180.47,658.47 L181.31,663 L182.58,663 L183.17,657.71 L183.77,659.87 L184.43,663 L187.72,662.87 L187.72,663 L188.52,653.18 L189.32,653.49 L190.2,663 L193.46,662.35 L194.6,662.65 L194.6,663 L195.56,655.16 L196.53,656.09 L197.6,663 L203.59,662.45 L205.86,661.83 L205.86,663 L206.81,659.02 L207.76,661.14 L208.81,663 L211.12,662.16 L211.12,663 L212.07,653.29 L213.01,658.66 L214.05,663 L216.51,663 L217.42,656.76 L218.32,659.55 L219.33,663 L222.71,663 L223.47,656.21 L224.23,656.62 L225.07,663 L227.44,663 L228.1,658.97 L228.75,659.29 L229.48,663 L232.66,662.49 L232.66,663 L233.34,653.68 L234.02,658.47 L234.77,663 L238.29,663 L239.18,655.82 L240.07,659.52 L241.06,663 L243.29,662.73 L243.29,663 L243.76,657.91 L244.24,660.12 L244.77,663 L248.21,663 L248.9,654.02 L249.59,659.08 L250.35,663 L250.5,662" fill="none" stroke="#3d2379" stroke-width="2.3" stroke-linejoin="round"/>
<path d="M45.10,477.99 L46.00,479.34 L46.91,480.66 L47.85,481.95 L48.80,483.22 L49.77,484.45 L50.76,485.66 L51.77,486.84 L52.80,487.99 L53.84,489.12 L54.90,490.22 L55.97,491.30 L57.06,492.35 L58.16,493.38 L59.28,494.39 L60.41,495.38 L61.56,496.34 L62.72,497.29 L63.89,498.21 L65.08,499.12 L66.28,500.00 L67.49,500.87 L68.71,501.72 L69.95,502.55 L71.19,503.37 L72.45,504.17 L73.71,504.95 L74.99,505.72 L76.28,506.48 L77.57,507.22 L78.87,507.95 L80.19,508.66 L81.51,509.37 L82.83,510.06 L84.17,510.75 L85.51,511.42 L86.86,512.09 L88.21,512.74 L89.57,513.39 L90.94,514.03 L92.31,514.66 L93.68,515.29 L95.06,515.91 L96.44,516.53 L97.83,517.14 L99.22,517.75 L100.61,518.36 L102.01,518.96 L103.41,519.56 L104.80,520.17 L106.20,520.77 L107.61,521.36 L109.01,521.97 L110.41,522.57 L111.81,523.17 L113.21,523.78 L114.61,524.38 L116.01,525.00 L117.41,525.61 L118.80,526.23 L120.19,526.86 L121.58,527.49 L122.97,528.13 L124.35,528.78 L125.73,529.43 L127.10,530.10 L128.47,530.77 L129.84,531.45 L131.20,532.14 L132.55,532.85 L133.89,533.56 L135.23,534.29 L136.56,535.03 L137.88,535.78 L139.18,536.55 L140.47,537.33 L141.75,538.13 L143.02,538.94 L144.27,539.77 L145.50,540.61 L146.71,541.48 L147.91,542.36 L149.08,543.26 L150.24,544.18 L151.37,545.12 L152.48,546.08 L153.57,547.06 L154.63,548.07 L155.66,549.09 L156.67,550.14 L157.65,551.22 L158.60,552.31 L159.52,553.44 L160.41,554.58 L161.26,555.76 L162.09,556.96 L162.87,558.19 L163.63,559.44 L164.34,560.72 L165.02,562.03 L165.67,563.36 L166.28,564.71 L166.85,566.09 L167.38,567.49 L167.87,568.92 L168.32,570.37 L168.73,571.84 L169.10,573.33 L169.43,574.84 L169.72,576.37 L169.96,577.92 L170.16,579.49 L170.32,581.07 L170.44,582.68 L170.50,584.30 L170.53,585.93 L170.51,587.59 L170.44,589.25 L170.32,590.94 L170.15,592.63" fill="none" stroke="#ef6b22" stroke-width="3.8" stroke-linejoin="round"/>
<path d="M171.12,592.36 L170.91,590.75 L170.74,589.15 L170.62,587.57 L170.54,586.00 L170.51,584.44 L170.53,582.90 L170.59,581.37 L170.69,579.85 L170.84,578.35 L171.03,576.86 L171.26,575.38 L171.53,573.92 L171.84,572.48 L172.19,571.05 L172.58,569.64 L173.01,568.24 L173.48,566.86 L173.98,565.50 L174.52,564.16 L175.10,562.83 L175.71,561.52 L176.35,560.23 L177.03,558.96 L177.74,557.71 L178.49,556.48 L179.26,555.27 L180.07,554.07 L180.91,552.90 L181.77,551.75 L182.67,550.62 L183.59,549.51 L184.54,548.42 L185.52,547.36 L186.52,546.31 L187.55,545.28 L188.60,544.28 L189.67,543.29 L190.77,542.32 L191.88,541.37 L193.01,540.44 L194.16,539.52 L195.33,538.62 L196.51,537.74 L197.71,536.87 L198.92,536.02 L200.14,535.18 L201.37,534.35 L202.61,533.54 L203.86,532.75 L205.12,531.96 L206.39,531.19 L207.66,530.43 L208.94,529.68 L210.23,528.95 L211.52,528.22 L212.82,527.50 L214.12,526.80 L215.43,526.10 L216.75,525.42 L218.07,524.74 L219.39,524.07 L220.72,523.41 L222.06,522.75 L223.39,522.11 L224.74,521.47 L226.08,520.84 L227.43,520.21 L228.78,519.59 L230.14,518.97 L231.50,518.36 L232.86,517.76 L234.22,517.15 L235.58,516.56 L236.95,515.96 L238.32,515.37 L239.69,514.78 L241.06,514.20 L242.43,513.61 L243.80,513.03 L245.17,512.45 L246.54,511.87 L247.92,511.29 L249.29,510.71 L250.66,510.13 L252.03,509.55 L253.40,508.96 L254.77,508.38 L256.13,507.79 L257.50,507.21 L258.86,506.61 L260.22,506.02 L261.58,505.42 L262.93,504.82 L264.29,504.22 L265.64,503.61 L266.98,502.99 L268.32,502.37 L269.66,501.75 L271.00,501.11 L272.33,500.47 L273.65,499.83 L274.97,499.18 L276.29,498.51 L277.60,497.85 L278.91,497.17 L280.20,496.48 L281.50,495.79 L282.79,495.08 L284.07,494.37 L285.34,493.64 L286.61,492.91 L287.87,492.16 L289.12,491.40 L290.36,490.63 L291.60,489.85 L292.83,489.05 L294.05,488.24 L295.26,487.42 L296.47,486.58" fill="none" stroke="#ef6b22" stroke-width="3.8" stroke-linejoin="round"/>
<path d="M170.6,586 V658" fill="none" stroke="#ef6b22" stroke-width="4.2"/>
</g>
<rect x="45.2" y="467.3" width="250.2" height="197" fill="none" stroke="#2a2a2a" stroke-width="1"/>
<path d="M45.2,664.3 h3 M45.2,655.83 h1.6 M45.2,650.87 h1.6 M45.2,647.36 h1.6 M45.2,644.63 h1.6 M45.2,642.4 h1.6 M45.2,640.52 h1.6 M45.2,638.88 h1.6 M45.2,637.44 h1.6 M45.2,636.16 h3 M45.2,627.69 h1.6 M45.2,622.73 h1.6 M45.2,619.21 h1.6 M45.2,616.49 h1.6 M45.2,614.26 h1.6 M45.2,612.37 h1.6 M45.2,610.74 h1.6 M45.2,609.3 h1.6 M45.2,608.01 h3 M45.2,599.54 h1.6 M45.2,594.59 h1.6 M45.2,591.07 h1.6 M45.2,588.34 h1.6 M45.2,586.11 h1.6 M45.2,584.23 h1.6 M45.2,582.6 h1.6 M45.2,581.16 h1.6 M45.2,579.87 h3 M45.2,571.4 h1.6 M45.2,566.44 h1.6 M45.2,562.93 h1.6 M45.2,560.2 h1.6 M45.2,557.97 h1.6 M45.2,556.09 h1.6 M45.2,554.46 h1.6 M45.2,553.02 h1.6 M45.2,551.73 h3 M45.2,543.26 h1.6 M45.2,538.3 h1.6 M45.2,534.78 h1.6 M45.2,532.06 h1.6 M45.2,529.83 h1.6 M45.2,527.95 h1.6 M45.2,526.31 h1.6 M45.2,524.87 h1.6 M45.2,523.59 h3 M45.2,515.11 h1.6 M45.2,510.16 h1.6 M45.2,506.64 h1.6 M45.2,503.91 h1.6 M45.2,501.69 h1.6 M45.2,499.8 h1.6 M45.2,498.17 h1.6 M45.2,496.73 h1.6 M45.2,495.44 h3 M45.2,486.97 h1.6 M45.2,482.02 h1.6 M45.2,478.5 h1.6 M45.2,475.77 h1.6 M45.2,473.54 h1.6 M45.2,471.66 h1.6 M45.2,470.03 h1.6 M45.2,468.59 h1.6 M45.2,467.3 h3 M295.4,664.3 h-3 M295.4,638.65 h-1.6 M295.4,623.65 h-1.6 M295.4,613 h-1.6 M295.4,604.75 h-1.6 M295.4,598 h-1.6 M295.4,592.3 h-1.6 M295.4,587.36 h-1.6 M295.4,583 h-1.6 M295.4,579.1 h-3 M295.4,553.45 h-1.6 M295.4,538.45 h-1.6 M295.4,527.8 h-1.6 M295.4,519.55 h-1.6 M295.4,512.8 h-1.6 M295.4,507.1 h-1.6 M295.4,502.16 h-1.6 M295.4,497.8 h-1.6 M295.4,493.9 h-3 M295.4,468.25 h-1.6 M107.75,664.3 v-3 M170.3,664.3 v-3 M232.85,664.3 v-3" stroke="#2a2a2a" stroke-width="0.8" fill="none"/>
<text x="34.3" y="471.3" font-size="10.3" fill="#231f20" text-anchor="end" textLength="10.4" lengthAdjust="spacingAndGlyphs">10</text>
<text x="34.5" y="467.5" font-size="7.8" fill="#231f20" textLength="5" lengthAdjust="spacingAndGlyphs">4</text>
<text x="34.3" y="499.44" font-size="10.3" fill="#231f20" text-anchor="end" textLength="10.4" lengthAdjust="spacingAndGlyphs">10</text>
<text x="34.5" y="495.64" font-size="7.8" fill="#231f20" textLength="5" lengthAdjust="spacingAndGlyphs">3</text>
<text x="34.3" y="527.59" font-size="10.3" fill="#231f20" text-anchor="end" textLength="10.4" lengthAdjust="spacingAndGlyphs">10</text>
<text x="34.5" y="523.79" font-size="7.8" fill="#231f20" textLength="5" lengthAdjust="spacingAndGlyphs">2</text>
<text x="34.3" y="555.73" font-size="10.3" fill="#231f20" text-anchor="end" textLength="10.4" lengthAdjust="spacingAndGlyphs">10</text>
<text x="34.5" y="551.93" font-size="7.8" fill="#231f20" textLength="5" lengthAdjust="spacingAndGlyphs">1</text>
<text x="34.3" y="583.87" font-size="10.3" fill="#231f20" text-anchor="end" textLength="10.4" lengthAdjust="spacingAndGlyphs">10</text>
<text x="34.5" y="580.07" font-size="7.8" fill="#231f20" textLength="5" lengthAdjust="spacingAndGlyphs">0</text>
<text x="31.1" y="612.01" font-size="10.3" fill="#231f20" text-anchor="end" textLength="10.4" lengthAdjust="spacingAndGlyphs">10</text>
<text x="31.3" y="608.21" font-size="7.8" fill="#231f20" textLength="8.2" lengthAdjust="spacingAndGlyphs">&#8722;1</text>
<text x="31.1" y="640.16" font-size="10.3" fill="#231f20" text-anchor="end" textLength="10.4" lengthAdjust="spacingAndGlyphs">10</text>
<text x="31.3" y="636.36" font-size="7.8" fill="#231f20" textLength="8.2" lengthAdjust="spacingAndGlyphs">&#8722;2</text>
<text x="31.1" y="668.3" font-size="10.3" fill="#231f20" text-anchor="end" textLength="10.4" lengthAdjust="spacingAndGlyphs">10</text>
<text x="31.3" y="664.5" font-size="7.8" fill="#231f20" textLength="8.2" lengthAdjust="spacingAndGlyphs">&#8722;3</text>
<text x="300.6" y="497.9" font-size="10.3" fill="#231f20" textLength="10.8" lengthAdjust="spacingAndGlyphs">10</text>
<text x="311.8" y="494.1" font-size="7.8" fill="#231f20" textLength="4.2" lengthAdjust="spacingAndGlyphs">2</text>
<text x="300.6" y="583.1" font-size="10.3" fill="#231f20" textLength="10.8" lengthAdjust="spacingAndGlyphs">10</text>
<text x="311.8" y="579.3" font-size="7.8" fill="#231f20" textLength="4.2" lengthAdjust="spacingAndGlyphs">1</text>
<text x="300.6" y="668.3" font-size="10.3" fill="#231f20" textLength="10.8" lengthAdjust="spacingAndGlyphs">10</text>
<text x="311.8" y="664.5" font-size="7.8" fill="#231f20" textLength="4.2" lengthAdjust="spacingAndGlyphs">0</text>
<text x="43.7" y="678.6" font-size="10.4" fill="#231f20" text-anchor="middle">&#8722;2</text>
<text x="106.25" y="678.6" font-size="10.4" fill="#231f20" text-anchor="middle">&#8722;1</text>
<text x="170.9" y="678.6" font-size="10.4" fill="#231f20" text-anchor="middle">0</text>
<text x="233.45" y="678.6" font-size="10.4" fill="#231f20" text-anchor="middle">1</text>
<text x="296" y="678.6" font-size="10.4" fill="#231f20" text-anchor="middle">2</text>
<text x="141.1" y="695.6" font-size="12.2" fill="#231f20" textLength="59.6" lengthAdjust="spacingAndGlyphs">Voltage, V</text>
<text transform="translate(12.6,631) rotate(-90)" font-size="12.2" fill="#231f20" textLength="139" lengthAdjust="spacingAndGlyphs">Current density <tspan font-style="italic">J</tspan>, A m<tspan font-size="7.5" dy="-4.5">&#8722;2</tspan></text>
<text transform="translate(326.8,513) rotate(90)" font-size="12.2" fill="#231f20" textLength="106" lengthAdjust="spacingAndGlyphs">EL intensity, norm.</text>
<text x="56.8" y="484.7" font-size="18.3" fill="#000" font-weight="bold" stroke="#000" stroke-width="0.5">d</text>
<text x="129.4" y="488.9" font-size="12.2" fill="#564592" textLength="82" lengthAdjust="spacingAndGlyphs">Field emission</text>
<line x1="132.3" y1="495.9" x2="117.7" y2="495.9" stroke="#3d2379" stroke-width="2.0"/>
<path d="M112.7,495.9 L119.7,492.6 L117.9,495.9 L119.7,499.2 Z" fill="#3d2379"/>
<line x1="206.7" y1="495.8" x2="221.3" y2="495.8" stroke="#3d2379" stroke-width="2.0"/>
<path d="M226.3,495.8 L219.3,499.1 L221.1,495.8 L219.3,492.5 Z" fill="#3d2379"/>
<line x1="90" y1="518.7" x2="68.7" y2="518.7" stroke="#ef6b22" stroke-width="2.2"/>
<path d="M63.7,518.7 L70.7,515.4 L68.9,518.7 L70.7,522 Z" fill="#ef6b22"/>
<line x1="263.2" y1="632.8" x2="287.3" y2="632.8" stroke="#3d2379" stroke-width="2.0"/>
<path d="M292.3,632.8 L285.3,636.1 L287.1,632.8 L285.3,629.5 Z" fill="#3d2379"/>
<rect x="509.7" y="466.4" width="30.0" height="197.5" fill="#9f93b9"/>
<clipPath id="ce"><rect x="398.5" y="466.4" width="250.9" height="197.5"/></clipPath>
<g clip-path="url(#ce)">
<g fill="#ef6b22"><circle cx="402.63" cy="546.5" r="2.65"/><circle cx="411.25" cy="551.5" r="2.65"/><circle cx="418.72" cy="556.2" r="2.65"/><circle cx="425.25" cy="559.8" r="2.65"/><circle cx="431.02" cy="563.7" r="2.65"/><circle cx="436.15" cy="567.6" r="2.65"/><circle cx="440.73" cy="571.2" r="2.65"/><circle cx="444.86" cy="574.08" r="2.65"/><circle cx="448.6" cy="576.97" r="2.65"/><circle cx="451.99" cy="579.57" r="2.65"/><circle cx="455.09" cy="581.73" r="2.65"/><circle cx="457.94" cy="583.9" r="2.65"/><circle cx="460.55" cy="585.9" r="2.65"/><circle cx="462.96" cy="587.66" r="2.65"/><circle cx="465.2" cy="589.41" r="2.65"/><circle cx="467.27" cy="591.17" r="2.65"/><circle cx="469.21" cy="592.92" r="2.65"/></g>
<path d="M467.27,591.17 L469.21,592.92 L471.01,594.51 L472.7,595.94 L474.28,597.37 L475.76,598.79 L477.16,600.22 L478.48,601.65 L479.72,603.07 L480.9,604.5 L482.02,605.7 L483.08,606.9 L484.08,608.1 L485.04,609.3 L485.95,610.5 L486.82,611.7 L487.65,612.9 L488.44,614.1 L489.2,615.3 L489.92,616.5 L490.62,617.7 L491.28,618.9 L491.92,619.85 L492.54,620.55 L493.13,621.25 L493.7,621.95 L494.25,622.65 L494.78,623.36 L495.29,624.06 L495.78,624.76 L496.25,625.46 L496.71,626.16 L497.15,626.86 L497.58,627.56 L498,628.26 L498.4,628.96 L498.79,629.67 L499.17,630.37 L499.53,631.07 L499.89,631.77 L500.23,632.43 L500.56,632.74 L500.89,633.05 L501.2,633.36 L501.51,633.67 L501.81,633.98 L502.1,634.29 L502.38,634.6 L502.66,634.91 L502.93,635.22 L503.19,635.53 L503.44,635.84 L503.69,636.16 L503.93,636.47 L504.17,636.78 L504.4,637.09 L504.62,637.4 L504.84,637.71 L505.06,638.02 L505.27,638.33 L505.47,638.64 L505.67,638.95 L505.87,639.26 L506.06,639.57 L506.25,639.88 L506.43,640.19 L506.61,640.5 L506.79,640.47 L506.96,640.44 L507.13,640.41 L507.29,640.38 L507.45,640.34 L507.61,640.31 L507.77,640.28 L507.92,640.25 L508.07,640.22 L508.22,640.19 L508.36,640.16 L508.5,640.12 L508.64,640.09 L508.77,640.06 L508.91,640.03 L509.04,640 L509.17,639.63 L509.29,639.27 L509.42,638.9 L509.54,638.53 L509.66,638.17 L509.78,637.8 L509.89,637.43 L510.01,637.07 L510.12,636.7 L510.23,636.33 L510.34,635.97 L510.44,635.6 L510.55,635.23 L510.65,634.87 L510.75,634.5 L510.85,634.13 L510.95,633.77 L511.04,633.4 L511.14,633.03 L511.23,632.67 L511.32,632.3 L511.42,631.93 L511.5,631.57 L511.59,631.2 L511.68,630.83 L511.77,630.47 L511.85,630.1 L511.93,629.73 L512.01,629.37 L512.09,629 L512.17,628.48 L512.25,627.96 L512.33,627.44 L512.41,626.92 L512.48,626.39 L512.56,625.87 L512.63,625.35 L512.7,624.83 L512.77,624.31 L512.84,623.79 L512.91,623.27 L512.98,622.75 L513.05,622.23 L513.11,621.71 L513.18,621.18 L513.24,620.66 L513.31,620.14 L513.37,619.62 L513.43,619.1 L513.5,618.58 L513.56,618.06 L513.62,617.54 L513.68,617.02 L513.73,616.49 L513.79,615.97 L513.85,615.45 L513.91,614.93 L513.96,614.41 L514.02,613.89 L514.07,613.37 L514.13,612.85 L514.18,612.33 L514.23,611.81 L514.28,611.28 L514.34,610.76 L514.39,610.24 L514.44,609.72 L514.49,609.2 L514.54,608.42 L514.58,607.64 L514.63,606.86 L514.68,606.08 L514.73,605.3 L514.77,604.52 L514.82,603.74 L514.87,602.95 L514.91,602.17 L514.96,601.39 L515,600.61 L515.04,599.83 L515.09,599.05 L515.13,598.27 L515.17,597.49 L515.21,596.71 L515.26,595.93 L515.3,595.15 L515.34,594.37 L515.38,593.59 L515.42,592.81 L515.46,592.03 L515.5,591.25 L515.53,590.46 L515.57,589.68 L515.61,588.9 L515.65,588.12 L515.68,587.34 L515.72,586.56 L515.76,585.78 L515.79,585 L515.83,584.04 L515.87,583.08 L515.9,582.12 L515.93,581.17 L515.97,580.21 L516,579.25 L516.04,578.29 L516.07,577.33 L516.1,576.37 L516.14,575.41 L516.17,574.46 L516.2,573.5 L516.23,572.54 L516.27,571.58 L516.3,570.62 L516.33,569.66 L516.36,568.7 L516.39,567.74 L516.42,566.79 L516.45,565.83 L516.48,564.87 L516.51,563.91 L516.54,562.95 L516.57,561.99 L516.6,561.03 L516.62,560.08 L516.65,559.12 L516.68,558.16 L516.71,557.2 L516.74,553.43 L516.76,549.65 L516.79,545.88 L516.82,542.1 L516.84,538.33 L516.87,534.55 L516.9,530.77 L516.92,527 L516.95,509 L516.97,491 L517,473 L517.02,455 L517.02,440" fill="none" stroke="#ef6b22" stroke-width="5.3" stroke-linecap="round" stroke-linejoin="round"/>
<g fill="#ef6b22"><circle cx="643.97" cy="549.2" r="2.65"/><circle cx="635.35" cy="554.3" r="2.65"/><circle cx="627.88" cy="558.8" r="2.65"/><circle cx="621.35" cy="562.8" r="2.65"/><circle cx="615.58" cy="566.5" r="2.65"/><circle cx="610.45" cy="569.9" r="2.65"/><circle cx="605.87" cy="573.2" r="2.65"/><circle cx="601.74" cy="575.53" r="2.65"/><circle cx="598" cy="577.85" r="2.65"/><circle cx="594.61" cy="580.18" r="2.65"/><circle cx="591.51" cy="582.5" r="2.65"/><circle cx="588.66" cy="584.51" r="2.65"/><circle cx="586.05" cy="586.38" r="2.65"/><circle cx="583.64" cy="588.26" r="2.65"/><circle cx="581.4" cy="590.13" r="2.65"/><circle cx="579.33" cy="592" r="2.65"/><circle cx="577.39" cy="593.68" r="2.65"/></g>
<path d="M579.33,592 L577.39,593.68 L575.59,595.36 L573.9,597.05 L572.32,598.73 L570.84,600.41 L569.44,602.09 L568.12,603.52 L566.88,604.56 L565.7,605.6 L564.58,606.65 L563.52,607.69 L562.52,608.73 L561.56,609.77 L560.65,610.82 L559.78,611.86 L558.95,612.9 L558.16,613.94 L557.4,614.99 L556.68,615.75 L555.98,616.4 L555.32,617.04 L554.67,617.68 L554.06,618.33 L553.47,618.97 L552.9,619.62 L552.35,620.26 L551.82,620.91 L551.31,621.55 L550.82,622.2 L550.35,622.84 L549.89,623.48 L549.45,624.13 L549.02,624.77 L548.6,625.42 L548.2,626.06 L547.81,626.71 L547.43,627.35 L547.07,628 L546.71,628.64 L546.37,629.28 L546.04,629.85 L545.71,630.09 L545.4,630.34 L545.09,630.59 L544.79,630.83 L544.5,631.08 L544.22,631.32 L543.94,631.57 L543.67,631.82 L543.41,632.06 L543.16,632.31 L542.91,632.55 L542.67,632.8 L542.43,633.04 L542.2,633.29 L541.98,633.54 L541.76,633.78 L541.54,634.03 L541.33,634.27 L541.13,634.52 L540.93,634.77 L540.73,635.01 L540.54,635.26 L540.35,635.5 L540.17,635.75 L539.99,635.99 L539.81,636.24 L539.64,636.49 L539.47,636.73 L539.31,636.98 L539.15,637.22 L538.99,637.47 L538.83,637.72 L538.68,637.96 L538.53,638.21 L538.38,638.45 L538.24,638.53 L538.1,638.36 L537.96,638.19 L537.83,638.03 L537.69,637.86 L537.56,637.69 L537.43,637.52 L537.31,637.35 L537.18,637.18 L537.06,637.01 L536.94,636.84 L536.82,636.68 L536.71,636.51 L536.59,636.34 L536.48,636.17 L536.37,636 L536.26,635.61 L536.16,635.22 L536.05,634.83 L535.95,634.44 L535.85,634.05 L535.75,633.66 L535.65,633.27 L535.56,632.88 L535.46,632.49 L535.37,632.1 L535.28,631.7 L535.18,631.31 L535.1,630.92 L535.01,630.53 L534.92,630.14 L534.83,629.75 L534.75,629.36 L534.67,628.97 L534.59,628.58 L534.51,628.19 L534.43,627.8 L534.35,627.32 L534.27,626.85 L534.19,626.37 L534.12,625.89 L534.04,625.42 L533.97,624.94 L533.9,624.46 L533.83,623.98 L533.76,623.51 L533.69,623.03 L533.62,622.55 L533.55,622.08 L533.49,621.6 L533.42,621.12 L533.36,620.65 L533.29,620.17 L533.23,619.69 L533.17,619.22 L533.1,618.74 L533.04,618.26 L532.98,617.78 L532.92,617.31 L532.87,616.83 L532.81,616.35 L532.75,615.88 L532.69,615.4 L532.64,614.92 L532.58,614.45 L532.53,613.97 L532.47,613.49 L532.42,613.02 L532.37,612.54 L532.32,612.06 L532.26,611.58 L532.21,611.11 L532.16,610.63 L532.11,610.15 L532.06,609.68 L532.02,609.2 L531.97,608.44 L531.92,607.69 L531.87,606.93 L531.83,606.18 L531.78,605.42 L531.73,604.66 L531.69,603.91 L531.64,603.15 L531.6,602.39 L531.56,601.64 L531.51,600.88 L531.47,600.12 L531.43,599.37 L531.39,598.61 L531.34,597.86 L531.3,597.1 L531.26,596.34 L531.22,595.59 L531.18,594.83 L531.14,594.08 L531.1,593.32 L531.07,592.56 L531.03,591.81 L530.99,591.05 L530.95,590.29 L530.92,589.54 L530.88,588.78 L530.84,588.02 L530.81,587.27 L530.77,586.51 L530.73,585.76 L530.7,585 L530.67,584.01 L530.63,583.01 L530.6,582.02 L530.56,581.03 L530.53,580.04 L530.5,579.04 L530.46,578.05 L530.43,577.06 L530.4,576.06 L530.37,575.07 L530.33,574.08 L530.3,573.09 L530.27,572.09 L530.24,571.1 L530.21,570.11 L530.18,569.11 L530.15,568.12 L530.12,567.13 L530.09,566.14 L530.06,565.14 L530.03,564.15 L530,563.16 L529.98,562.16 L529.95,561.17 L529.92,560.18 L529.89,559.19 L529.86,558.19 L529.84,557.2 L529.81,554.21 L529.78,551.22 L529.76,548.23 L529.73,545.24 L529.7,542.25 L529.68,539.26 L529.65,536.27 L529.63,533.28 L529.6,530.29 L529.57,527.3" fill="none" stroke="#ef6b22" stroke-width="5.3" stroke-linecap="round" stroke-linejoin="round"/>
<path d="M398.03,506.90 L399.27,507.63 L400.50,508.38 L401.72,509.13 L402.94,509.90 L404.16,510.67 L405.37,511.46 L406.57,512.25 L407.77,513.05 L408.96,513.87 L410.14,514.69 L411.32,515.52 L412.50,516.36 L413.66,517.22 L414.83,518.07 L415.98,518.94 L417.13,519.82 L418.27,520.70 L419.41,521.60 L420.54,522.50 L421.67,523.41 L422.79,524.33 L423.90,525.26 L425.01,526.19 L426.11,527.13 L427.20,528.08 L428.29,529.04 L429.37,530.01 L430.45,530.98 L431.52,531.96 L432.58,532.95 L433.64,533.94 L434.69,534.94 L435.73,535.95 L436.77,536.97 L437.81,537.99 L438.83,539.01 L439.85,540.05 L440.86,541.09 L441.87,542.13 L442.87,543.19 L443.87,544.24 L444.85,545.31 L445.84,546.38 L446.81,547.45 L447.78,548.53 L448.74,549.62 L449.70,550.71 L450.65,551.81 L451.59,552.91 L452.52,554.02 L453.45,555.13 L454.38,556.24 L455.29,557.36 L456.20,558.49 L457.11,559.62 L458.00,560.75 L458.89,561.89 L459.78,563.03 L460.65,564.17 L461.52,565.32 L462.39,566.47 L463.25,567.63 L464.10,568.79 L464.94,569.96 L465.78,571.12 L466.61,572.30 L467.44,573.47 L468.26,574.65 L469.08,575.84 L469.89,577.02 L470.69,578.21 L471.49,579.41 L472.28,580.61 L473.07,581.81 L473.86,583.02 L474.63,584.23 L475.41,585.44 L476.17,586.66 L476.94,587.88 L477.69,589.10 L478.45,590.33 L479.20,591.56 L479.94,592.79 L480.68,594.03 L481.41,595.27 L482.15,596.52 L482.87,597.77 L483.59,599.02 L484.31,600.28 L485.03,601.54 L485.74,602.80 L486.45,604.07 L487.15,605.34 L487.85,606.61 L488.54,607.89 L489.24,609.17 L489.93,610.45 L490.61,611.74 L491.30,613.03 L491.98,614.32 L492.65,615.62 L493.33,616.92 L494.00,618.22 L494.67,619.53 L495.33,620.84 L495.99,622.15 L496.65,623.47 L497.31,624.79 L497.97,626.11 L498.62,627.44 L499.27,628.77 L499.93,630.10 L500.60,631.41 L501.31,632.69 L502.08,633.91 L502.92,635.06 L503.87,636.12 L504.92,637.06 L506.04,637.79 L507.19,638.18 L508.33,638.16 L509.42,637.72 L510.41,636.96 L511.27,635.98 L511.97,634.86 L512.51,633.62 L512.93,632.29 L513.23,630.87 L513.44,629.38 L513.58,627.85 L513.66,626.27 L513.70,624.67 L513.71,623.07 L513.73,621.47 L513.76,619.90 L513.79,618.34 L513.84,616.80 L513.89,615.28 L513.94,613.77 L514.01,612.27 L514.08,610.79 L514.16,609.32 L514.24,607.87 L514.32,606.42 L514.41,604.98 L514.51,603.55 L514.60,602.13 L514.70,600.72 L514.80,599.31 L514.90,597.91 L515.01,596.51 L515.11,595.11 L515.21,593.72 L515.31,592.33 L515.42,590.93 L515.51,589.54 L515.61,588.14 L515.71,586.75 L515.80,585.35 L515.88,583.94 L515.97,582.53 L516.04,581.11 L516.11,579.69 L516.18,578.26 L516.24,576.82 L516.30,575.38 L516.35,573.92 L516.39,572.47 L516.44,571.01 L516.48,569.54 L516.51,568.07 L516.54,566.60 L516.57,565.12 L516.59,563.64 L516.62,562.16 L516.64,560.68 L516.65,559.20 L516.67,557.71 L516.68,556.23 L516.70,554.75 L516.71,553.27 L516.72,551.79 L516.73,550.31 L516.75,548.83 L516.76,547.36 L516.77,545.90 L516.78,544.43 L516.80,542.98 L516.81,541.52 L516.83,540.08 L516.85,538.64 L516.87,537.20 L516.89,535.78 L516.92,534.36 L516.95,532.95 L516.98,531.55 L517.02,530.16 L517.06,528.78 L517.10,527.41" fill="none" stroke="#000" stroke-width="2.0" stroke-linejoin="round"/>
<path d="M529.40,527.42 L529.40,528.83 L529.40,530.26 L529.40,531.68 L529.40,533.11 L529.41,534.55 L529.42,535.98 L529.43,537.42 L529.44,538.86 L529.45,540.31 L529.46,541.75 L529.48,543.20 L529.50,544.65 L529.52,546.10 L529.54,547.56 L529.56,549.01 L529.59,550.47 L529.61,551.93 L529.64,553.39 L529.67,554.85 L529.70,556.31 L529.74,557.77 L529.77,559.24 L529.81,560.70 L529.85,562.17 L529.89,563.63 L529.93,565.10 L529.98,566.56 L530.02,568.03 L530.07,569.49 L530.12,570.95 L530.17,572.42 L530.22,573.88 L530.28,575.34 L530.34,576.80 L530.40,578.26 L530.46,579.72 L530.52,581.18 L530.58,582.63 L530.65,584.08 L530.72,585.54 L530.79,586.99 L530.86,588.43 L530.93,589.88 L531.01,591.32 L531.09,592.76 L531.17,594.20 L531.25,595.63 L531.33,597.06 L531.42,598.49 L531.50,599.92 L531.59,601.34 L531.68,602.76 L531.78,604.17 L531.87,605.58 L531.97,606.99 L532.07,608.39 L532.17,609.79 L532.27,611.19 L532.38,612.59 L532.49,614.00 L532.61,615.41 L532.73,616.84 L532.87,618.29 L533.01,619.75 L533.16,621.23 L533.32,622.74 L533.49,624.28 L533.67,625.85 L533.87,627.45 L534.09,629.06 L534.37,630.66 L534.72,632.19 L535.17,633.63 L535.74,634.94 L536.46,636.07 L537.35,637.00 L538.38,637.64 L539.53,637.92 L540.74,637.80 L541.95,637.35 L543.08,636.64 L544.12,635.73 L545.06,634.64 L545.93,633.43 L546.74,632.13 L547.51,630.77 L548.26,629.40 L549.01,628.05 L549.74,626.71 L550.48,625.39 L551.20,624.08 L551.92,622.79 L552.64,621.51 L553.35,620.23 L554.06,618.97 L554.76,617.71 L555.46,616.46 L556.16,615.21 L556.85,613.96 L557.54,612.70 L558.23,611.45 L558.92,610.19 L559.61,608.93 L560.29,607.67 L560.98,606.40 L561.66,605.14 L562.34,603.87 L563.03,602.60 L563.71,601.32 L564.39,600.05 L565.08,598.78 L565.76,597.50 L566.45,596.23 L567.14,594.95 L567.83,593.68 L568.52,592.40 L569.21,591.13 L569.91,589.85 L570.61,588.58 L571.31,587.31 L572.01,586.04 L572.72,584.77 L573.44,583.51 L574.15,582.25 L574.87,580.99 L575.60,579.73 L576.33,578.47 L577.07,577.22 L577.81,575.97 L578.56,574.73 L579.31,573.49 L580.07,572.25 L580.84,571.02 L581.61,569.80 L582.39,568.57 L583.18,567.36 L583.98,566.15 L584.78,564.94 L585.60,563.74 L586.42,562.55 L587.25,561.36 L588.08,560.18 L588.93,559.01 L589.79,557.84 L590.66,556.68 L591.53,555.53 L592.42,554.39 L593.32,553.25 L594.23,552.12 L595.15,551.00 L596.08,549.89 L597.02,548.79 L597.97,547.70 L598.93,546.61 L599.90,545.53 L600.88,544.46 L601.87,543.40 L602.87,542.35 L603.87,541.31 L604.89,540.27 L605.92,539.24 L606.95,538.22 L608.00,537.21 L609.05,536.21 L610.11,535.21 L611.17,534.23 L612.25,533.25 L613.33,532.28 L614.43,531.32 L615.52,530.36 L616.63,529.42 L617.74,528.48 L618.86,527.55 L619.99,526.63 L621.12,525.72 L622.26,524.82 L623.41,523.92 L624.56,523.03 L625.72,522.16 L626.89,521.29 L628.06,520.42 L629.23,519.57 L630.41,518.72 L631.60,517.89 L632.79,517.06 L633.99,516.24 L635.19,515.42 L636.40,514.62 L637.61,513.82 L638.82,513.04 L640.04,512.26 L641.26,511.49 L642.49,510.72 L643.72,509.97 L644.95,509.22 L646.19,508.49 L647.43,507.76 L648.68,507.04 L649.92,506.32" fill="none" stroke="#000" stroke-width="2.0" stroke-linejoin="round"/>
</g>
<rect x="398.5" y="466.4" width="250.9" height="197.5" fill="none" stroke="#3a3a3a" stroke-width="1"/>
<path d="M398.5,663.9 v-3 M448.68,663.9 v-3 M498.86,663.9 v-3 M549.04,663.9 v-3 M599.22,663.9 v-3 M649.4,663.9 v-3" stroke="#3a3a3a" stroke-width="0.8" fill="none"/>
<text x="397.2" y="678.4" font-size="10.6" fill="#231f20" text-anchor="middle">&#8722;10</text>
<text x="447.38" y="678.4" font-size="10.6" fill="#231f20" text-anchor="middle">&#8722;6</text>
<text x="497.56" y="678.4" font-size="10.6" fill="#231f20" text-anchor="middle">&#8722;2</text>
<text x="549.44" y="678.4" font-size="10.6" fill="#231f20" text-anchor="middle">2</text>
<text x="599.62" y="678.4" font-size="10.6" fill="#231f20" text-anchor="middle">6</text>
<text x="649.8" y="678.4" font-size="10.6" fill="#231f20" text-anchor="middle">10</text>
<text x="392.7" y="469.6" font-size="10.8" fill="#231f20" text-anchor="end" textLength="27.7" lengthAdjust="spacingAndGlyphs">1,000</text>
<text x="392.8" y="667.6" font-size="10.8" fill="#231f20" text-anchor="end" textLength="17.9" lengthAdjust="spacingAndGlyphs">100</text>
<text x="657" y="469.6" font-size="10.8" fill="#231f20" textLength="27.7" lengthAdjust="spacingAndGlyphs">1,000</text>
<text x="657" y="667.6" font-size="10.8" fill="#231f20" textLength="17.9" lengthAdjust="spacingAndGlyphs">100</text>
<text x="506.8" y="695.9" font-size="12.2" fill="#231f20">1/<tspan font-style="italic">V</tspan>, V<tspan font-size="7.5" dy="-4.5">&#8722;1</tspan></text>
<text transform="translate(380.2,606) rotate(-90)" font-size="12.6" fill="#231f20" textLength="82" lengthAdjust="spacingAndGlyphs"><tspan font-style="italic">J</tspan>/<tspan font-style="italic">V</tspan><tspan font-size="8.3" dy="-4.8">2</tspan><tspan dy="4.8">, A V</tspan><tspan font-size="8.3" dy="-4.8">&#8722;2</tspan><tspan dy="4.8"> m</tspan><tspan font-size="8.3" dy="-4.8">&#8722;2</tspan></text>
<text transform="translate(666.2,524) rotate(90)" font-size="12.6" fill="#231f20" textLength="83" lengthAdjust="spacingAndGlyphs"><tspan font-style="italic">J</tspan>/<tspan font-style="italic">V</tspan><tspan font-size="8.3" dy="-4.8">2</tspan><tspan dy="4.8">, A V</tspan><tspan font-size="8.3" dy="-4.8">&#8722;2</tspan><tspan dy="4.8"> m</tspan><tspan font-size="8.3" dy="-4.8">&#8722;2</tspan></text>
<text x="406.6" y="485.1" font-size="18.3" fill="#000" font-weight="bold" stroke="#000" stroke-width="0.5">e</text>
<text x="551.3" y="483.6" font-size="12.2" fill="#564592" textLength="26.6" lengthAdjust="spacingAndGlyphs">Field</text>
<text x="551.3" y="496.9" font-size="12.2" fill="#564592" textLength="50.5" lengthAdjust="spacingAndGlyphs">emission</text>
<line x1="546" y1="485.2" x2="531.1" y2="485.2" stroke="#3d2379" stroke-width="2.0"/>
<path d="M526.1,485.2 L533.1,481.9 L531.3,485.2 L533.1,488.5 Z" fill="#3d2379"/>
<text x="641.5" y="640.8" font-size="12.2" fill="#231f20" text-anchor="end" textLength="33.3" lengthAdjust="spacingAndGlyphs">Direct</text>
<text x="642" y="655.4" font-size="12.2" fill="#231f20" text-anchor="end" textLength="58.8" lengthAdjust="spacingAndGlyphs">tunnelling</text></svg>
</body></html>
